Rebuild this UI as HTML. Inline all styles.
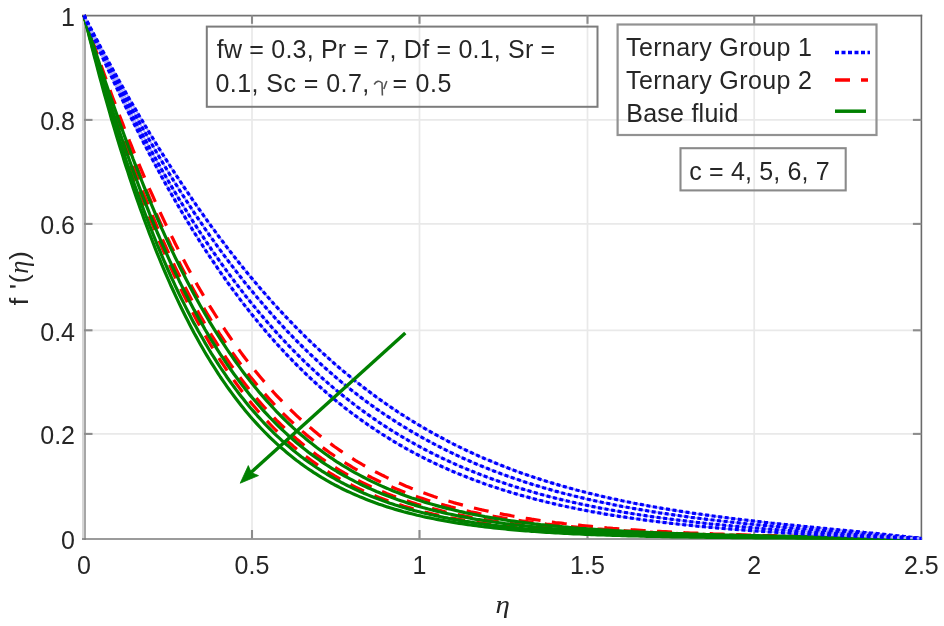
<!DOCTYPE html>
<html><head><meta charset="utf-8"><style>
html,body{margin:0;padding:0;background:#fff;}
svg{display:block;filter:blur(0.45px);}
text{font-family:"Liberation Sans",sans-serif;font-size:25px;fill:#262626;}
</style></head><body>
<svg width="944" height="626" viewBox="0 0 944 626">
<rect x="0" y="0" width="944" height="626" fill="#fff"/>
<g stroke="#e9e9e9" stroke-width="1.7" fill="none">
<line x1="84" y1="119.9" x2="921.4" y2="119.9"/>
<line x1="84" y1="223.9" x2="921.4" y2="223.9"/>
<line x1="84" y1="330.3" x2="921.4" y2="330.3"/>
<line x1="84" y1="433.9" x2="921.4" y2="433.9"/>
<line x1="252.0" y1="15.3" x2="252.0" y2="538.5"/>
<line x1="419.5" y1="15.3" x2="419.5" y2="538.5"/>
<line x1="587.5" y1="15.3" x2="587.5" y2="538.5"/>
<line x1="754.2" y1="15.3" x2="754.2" y2="538.5"/>
</g>
<rect x="82" y="14.5" width="2" height="525.5" fill="#d6d6d6"/>
<rect x="84" y="14.5" width="2" height="525.5" fill="#a6a6a6"/>
<g fill="none">
<line x1="82" y1="15.6" x2="922.2" y2="15.6" stroke="#737373" stroke-width="1.7"/>
<line x1="921.4" y1="14.8" x2="921.4" y2="539.8" stroke="#6a6a6a" stroke-width="1.6"/>
<line x1="82" y1="539" x2="922.2" y2="539" stroke="#7a7a7a" stroke-width="1.7"/>
</g>
<g stroke="#8c8c8c" stroke-width="2.1" fill="none">
<line x1="84" y1="119.9" x2="92.5" y2="119.9"/><line x1="912.9" y1="119.9" x2="921.4" y2="119.9"/>
<line x1="84" y1="223.9" x2="92.5" y2="223.9"/><line x1="912.9" y1="223.9" x2="921.4" y2="223.9"/>
<line x1="84" y1="330.3" x2="92.5" y2="330.3"/><line x1="912.9" y1="330.3" x2="921.4" y2="330.3"/>
<line x1="84" y1="433.9" x2="92.5" y2="433.9"/><line x1="912.9" y1="433.9" x2="921.4" y2="433.9"/>
<line x1="252.0" y1="538.5" x2="252.0" y2="530"/><line x1="252.0" y1="15.3" x2="252.0" y2="23.8"/>
<line x1="419.5" y1="538.5" x2="419.5" y2="530"/><line x1="419.5" y1="15.3" x2="419.5" y2="23.8"/>
<line x1="587.5" y1="538.5" x2="587.5" y2="530"/><line x1="587.5" y1="15.3" x2="587.5" y2="23.8"/>
<line x1="754.2" y1="538.5" x2="754.2" y2="530"/><line x1="754.2" y1="15.3" x2="754.2" y2="23.8"/>
</g>
<g fill="none" stroke-width="3.2" stroke-linejoin="round" stroke-linecap="butt">
<path d="M84.0,15.3 L84.5,16.7 L85.1,18.8 L85.9,21.1 L86.8,23.8 L87.8,26.6 L88.8,29.6 L89.8,32.8 L91.0,36.0 L92.1,39.4 L93.3,42.9 L94.5,46.5 L95.8,50.1 L97.1,53.8 L98.4,57.6 L99.7,61.5 L101.1,65.4 L102.5,69.3 L103.9,73.3 L105.4,77.4 L106.9,81.5 L108.4,85.6 L109.9,89.8 L111.4,94.0 L113.0,98.2 L114.6,102.4 L116.2,106.7 L117.8,111.0 L119.4,115.3 L121.1,119.6 L122.8,123.9 L124.4,128.2 L126.1,132.6 L127.9,136.9 L129.6,141.3 L131.4,145.6 L133.1,150.0 L134.9,154.4 L136.7,158.7 L138.5,163.1 L140.3,167.4 L142.2,171.8 L144.0,176.1 L145.9,180.5 L147.8,184.8 L149.6,189.1 L151.6,193.4 L153.5,197.7 L155.4,202.0 L157.3,206.2 L159.3,210.5 L161.2,214.7 L163.2,218.9 L165.2,223.1 L167.2,227.3 L169.2,231.4 L171.2,235.5 L173.3,239.6 L175.3,243.7 L177.4,247.8 L179.4,251.8 L181.5,255.8 L183.6,259.8 L185.7,263.8 L187.8,267.7 L189.9,271.6 L192.0,275.5 L194.1,279.3 L196.3,283.1 L198.4,286.9 L200.6,290.6 L202.8,294.4 L204.9,298.1 L207.1,301.7 L209.3,305.3 L211.5,308.9 L213.8,312.5 L216.0,316.0 L218.2,319.5 L220.4,323.0 L222.7,326.4 L225.0,329.8 L227.2,333.2 L229.5,336.5 L231.8,339.8 L234.1,343.0 L236.4,346.2 L238.7,349.4 L241.0,352.6 L243.3,355.7 L245.6,358.8 L248.0,361.8 L250.3,364.8 L252.7,367.8 L255.1,370.7 L257.4,373.6 L259.8,376.5 L262.2,379.3 L264.6,382.1 L267.0,384.9 L269.4,387.6 L271.8,390.3 L274.2,393.0 L276.6,395.6 L279.1,398.2 L281.5,400.7 L284.0,403.2 L286.4,405.7 L288.9,408.1 L291.4,410.6 L293.8,412.9 L296.3,415.3 L298.8,417.6 L301.3,419.9 L303.8,422.1 L306.3,424.3 L308.8,426.5 L311.4,428.6 L313.9,430.7 L316.4,432.8 L319.0,434.9 L321.5,436.9 L324.1,438.8 L326.6,440.8 L329.2,442.7 L331.8,444.6 L334.3,446.5 L336.9,448.3 L339.5,450.1 L342.1,451.9 L344.7,453.6 L347.3,455.3 L350.0,457.0 L352.6,458.6 L355.2,460.3 L357.8,461.9 L360.5,463.4 L363.1,465.0 L365.8,466.5 L368.4,468.0 L371.1,469.4 L373.8,470.9 L376.4,472.3 L379.1,473.6 L381.8,475.0 L384.5,476.3 L387.2,477.7 L389.9,478.9 L392.6,480.2 L395.3,481.4 L398.0,482.6 L400.8,483.8 L403.5,485.0 L406.2,486.2 L409.0,487.3 L411.7,488.4 L414.5,489.5 L417.2,490.5 L420.0,491.6 L422.7,492.6 L425.5,493.6 L428.3,494.6 L431.1,495.5 L433.9,496.5 L436.7,497.4 L439.5,498.3 L442.3,499.2 L445.1,500.1 L447.9,500.9 L450.7,501.7 L453.5,502.6 L456.4,503.4 L459.2,504.1 L462.0,504.9 L464.9,505.7 L467.7,506.4 L470.6,507.1 L473.4,507.8 L476.3,508.5 L479.2,509.2 L482.0,509.9 L484.9,510.5 L487.8,511.1 L490.7,511.8 L493.6,512.4 L496.5,513.0 L499.4,513.5 L502.3,514.1 L505.2,514.7 L508.1,515.2 L511.0,515.7 L513.9,516.3 L516.9,516.8 L519.8,517.3 L522.7,517.8 L525.7,518.2 L528.6,518.7 L531.6,519.2 L534.5,519.6 L537.5,520.0 L540.5,520.5 L543.4,520.9 L546.4,521.3 L549.4,521.7 L552.4,522.1 L555.3,522.5 L558.3,522.8 L561.3,523.2 L564.3,523.6 L567.3,523.9 L570.3,524.3 L573.4,524.6 L576.4,524.9 L579.4,525.2 L582.4,525.5 L585.4,525.8 L588.5,526.1 L591.5,526.4 L594.6,526.7 L597.6,527.0 L600.7,527.3 L603.7,527.5 L606.8,527.8 L609.8,528.0 L612.9,528.3 L616.0,528.5 L619.1,528.8 L622.1,529.0 L625.2,529.2 L628.3,529.4 L631.4,529.7 L634.5,529.9 L637.6,530.1 L640.7,530.3 L643.8,530.5 L646.9,530.7 L650.0,530.9 L653.2,531.0 L656.3,531.2 L659.4,531.4 L662.5,531.6 L665.7,531.7 L668.8,531.9 L672.0,532.1 L675.1,532.2 L678.3,532.4 L681.4,532.5 L684.6,532.7 L687.7,532.8 L690.9,533.0 L694.1,533.1 L697.2,533.2 L700.4,533.4 L703.6,533.5 L706.8,533.6 L710.0,533.7 L713.2,533.9 L716.4,534.0 L719.6,534.1 L722.8,534.2 L726.0,534.3 L729.2,534.4 L732.4,534.5 L735.6,534.6 L738.9,534.7 L742.1,534.8 L745.3,534.9 L748.5,535.0 L751.8,535.1 L755.0,535.2 L758.3,535.3 L761.5,535.4 L764.8,535.5 L768.0,535.6 L771.3,535.7 L774.5,535.7 L777.8,535.8 L781.1,535.9 L784.4,536.0 L787.6,536.1 L790.9,536.1 L794.2,536.2 L797.5,536.3 L800.8,536.4 L804.1,536.4 L807.4,536.5 L810.7,536.6 L814.0,536.6 L817.3,536.7 L820.6,536.8 L823.9,536.8 L827.2,536.9 L830.5,537.0 L833.9,537.0 L837.2,537.1 L840.5,537.1 L843.9,537.2 L847.2,537.3 L850.5,537.3 L853.9,537.4 L857.2,537.4 L860.6,537.5 L863.9,537.6 L867.3,537.6 L870.7,537.7 L874.0,537.7 L877.4,537.8 L880.8,537.8 L884.2,537.9 L887.5,538.0 L890.9,538.0 L894.3,538.1 L897.7,538.1 L901.1,538.2 L904.5,538.2 L907.9,538.3 L911.3,538.3 L914.7,538.4 L918.1,538.4 L921.5,538.5" stroke="#ff0000" stroke-dasharray="15 11.4"/>
<path d="M84.0,15.3 L84.5,16.8 L85.1,19.0 L85.9,21.5 L86.8,24.3 L87.8,27.3 L88.8,30.5 L89.8,33.9 L91.0,37.3 L92.1,40.9 L93.3,44.6 L94.5,48.4 L95.8,52.2 L97.1,56.2 L98.4,60.2 L99.7,64.3 L101.1,68.4 L102.5,72.6 L103.9,76.8 L105.4,81.1 L106.9,85.4 L108.4,89.8 L109.9,94.1 L111.4,98.6 L113.0,103.0 L114.6,107.5 L116.2,112.0 L117.8,116.5 L119.4,121.0 L121.1,125.5 L122.8,130.0 L124.4,134.6 L126.1,139.1 L127.9,143.7 L129.6,148.3 L131.4,152.8 L133.1,157.4 L134.9,162.0 L136.7,166.5 L138.5,171.1 L140.3,175.6 L142.2,180.1 L144.0,184.6 L145.9,189.1 L147.8,193.6 L149.6,198.1 L151.6,202.6 L153.5,207.0 L155.4,211.5 L157.3,215.9 L159.3,220.3 L161.2,224.6 L163.2,229.0 L165.2,233.3 L167.2,237.6 L169.2,241.8 L171.2,246.1 L173.3,250.3 L175.3,254.5 L177.4,258.7 L179.4,262.8 L181.5,266.9 L183.6,271.0 L185.7,275.0 L187.8,279.0 L189.9,283.0 L192.0,286.9 L194.1,290.8 L196.3,294.7 L198.4,298.5 L200.6,302.4 L202.8,306.1 L204.9,309.9 L207.1,313.6 L209.3,317.2 L211.5,320.8 L213.8,324.4 L216.0,328.0 L218.2,331.5 L220.4,335.0 L222.7,338.4 L225.0,341.8 L227.2,345.2 L229.5,348.5 L231.8,351.8 L234.1,355.0 L236.4,358.2 L238.7,361.4 L241.0,364.5 L243.3,367.6 L245.6,370.7 L248.0,373.7 L250.3,376.7 L252.7,379.6 L255.1,382.5 L257.4,385.4 L259.8,388.2 L262.2,391.0 L264.6,393.7 L267.0,396.4 L269.4,399.1 L271.8,401.7 L274.2,404.3 L276.6,406.9 L279.1,409.4 L281.5,411.9 L284.0,414.3 L286.4,416.7 L288.9,419.1 L291.4,421.4 L293.8,423.7 L296.3,426.0 L298.8,428.2 L301.3,430.4 L303.8,432.6 L306.3,434.7 L308.8,436.8 L311.4,438.8 L313.9,440.8 L316.4,442.8 L319.0,444.8 L321.5,446.7 L324.1,448.6 L326.6,450.4 L329.2,452.3 L331.8,454.0 L334.3,455.8 L336.9,457.5 L339.5,459.2 L342.1,460.9 L344.7,462.5 L347.3,464.1 L350.0,465.7 L352.6,467.3 L355.2,468.8 L357.8,470.3 L360.5,471.8 L363.1,473.2 L365.8,474.6 L368.4,476.0 L371.1,477.3 L373.8,478.7 L376.4,480.0 L379.1,481.3 L381.8,482.5 L384.5,483.8 L387.2,485.0 L389.9,486.1 L392.6,487.3 L395.3,488.4 L398.0,489.6 L400.8,490.7 L403.5,491.7 L406.2,492.8 L409.0,493.8 L411.7,494.8 L414.5,495.8 L417.2,496.8 L420.0,497.7 L422.7,498.6 L425.5,499.5 L428.3,500.4 L431.1,501.3 L433.9,502.1 L436.7,503.0 L439.5,503.8 L442.3,504.6 L445.1,505.4 L447.9,506.1 L450.7,506.9 L453.5,507.6 L456.4,508.3 L459.2,509.0 L462.0,509.7 L464.9,510.4 L467.7,511.0 L470.6,511.7 L473.4,512.3 L476.3,512.9 L479.2,513.5 L482.0,514.1 L484.9,514.7 L487.8,515.2 L490.7,515.8 L493.6,516.3 L496.5,516.8 L499.4,517.3 L502.3,517.8 L505.2,518.3 L508.1,518.8 L511.0,519.3 L513.9,519.7 L516.9,520.2 L519.8,520.6 L522.7,521.0 L525.7,521.4 L528.6,521.8 L531.6,522.2 L534.5,522.6 L537.5,523.0 L540.5,523.4 L543.4,523.7 L546.4,524.1 L549.4,524.4 L552.4,524.8 L555.3,525.1 L558.3,525.4 L561.3,525.7 L564.3,526.0 L567.3,526.3 L570.3,526.6 L573.4,526.9 L576.4,527.2 L579.4,527.5 L582.4,527.7 L585.4,528.0 L588.5,528.2 L591.5,528.5 L594.6,528.7 L597.6,529.0 L600.7,529.2 L603.7,529.4 L606.8,529.6 L609.8,529.8 L612.9,530.0 L616.0,530.3 L619.1,530.5 L622.1,530.6 L625.2,530.8 L628.3,531.0 L631.4,531.2 L634.5,531.4 L637.6,531.6 L640.7,531.7 L643.8,531.9 L646.9,532.0 L650.0,532.2 L653.2,532.4 L656.3,532.5 L659.4,532.7 L662.5,532.8 L665.7,532.9 L668.8,533.1 L672.0,533.2 L675.1,533.3 L678.3,533.5 L681.4,533.6 L684.6,533.7 L687.7,533.8 L690.9,533.9 L694.1,534.1 L697.2,534.2 L700.4,534.3 L703.6,534.4 L706.8,534.5 L710.0,534.6 L713.2,534.7 L716.4,534.8 L719.6,534.9 L722.8,535.0 L726.0,535.1 L729.2,535.2 L732.4,535.2 L735.6,535.3 L738.9,535.4 L742.1,535.5 L745.3,535.6 L748.5,535.7 L751.8,535.7 L755.0,535.8 L758.3,535.9 L761.5,536.0 L764.8,536.0 L768.0,536.1 L771.3,536.2 L774.5,536.2 L777.8,536.3 L781.1,536.4 L784.4,536.4 L787.6,536.5 L790.9,536.6 L794.2,536.6 L797.5,536.7 L800.8,536.7 L804.1,536.8 L807.4,536.9 L810.7,536.9 L814.0,537.0 L817.3,537.0 L820.6,537.1 L823.9,537.1 L827.2,537.2 L830.5,537.2 L833.9,537.3 L837.2,537.3 L840.5,537.4 L843.9,537.4 L847.2,537.5 L850.5,537.5 L853.9,537.6 L857.2,537.6 L860.6,537.7 L863.9,537.7 L867.3,537.8 L870.7,537.8 L874.0,537.9 L877.4,537.9 L880.8,538.0 L884.2,538.0 L887.5,538.0 L890.9,538.1 L894.3,538.1 L897.7,538.2 L901.1,538.2 L904.5,538.3 L907.9,538.3 L911.3,538.4 L914.7,538.4 L918.1,538.5 L921.5,538.5" stroke="#ff0000" stroke-dasharray="15 11.4"/>
<path d="M84.0,15.3 L84.5,16.9 L85.1,19.2 L85.9,22.0 L86.8,24.9 L87.8,28.2 L88.8,31.6 L89.8,35.1 L91.0,38.8 L92.1,42.7 L93.3,46.6 L94.5,50.6 L95.8,54.8 L97.1,59.0 L98.4,63.2 L99.7,67.6 L101.1,72.0 L102.5,76.4 L103.9,80.9 L105.4,85.5 L106.9,90.1 L108.4,94.7 L109.9,99.4 L111.4,104.0 L113.0,108.7 L114.6,113.5 L116.2,118.2 L117.8,123.0 L119.4,127.8 L121.1,132.6 L122.8,137.3 L124.4,142.1 L126.1,147.0 L127.9,151.8 L129.6,156.6 L131.4,161.4 L133.1,166.2 L134.9,171.0 L136.7,175.7 L138.5,180.5 L140.3,185.3 L142.2,190.0 L144.0,194.7 L145.9,199.4 L147.8,204.1 L149.6,208.8 L151.6,213.5 L153.5,218.1 L155.4,222.7 L157.3,227.3 L159.3,231.9 L161.2,236.4 L163.2,240.9 L165.2,245.4 L167.2,249.8 L169.2,254.2 L171.2,258.6 L173.3,263.0 L175.3,267.3 L177.4,271.6 L179.4,275.8 L181.5,280.0 L183.6,284.2 L185.7,288.3 L187.8,292.4 L189.9,296.5 L192.0,300.5 L194.1,304.5 L196.3,308.5 L198.4,312.4 L200.6,316.3 L202.8,320.1 L204.9,323.9 L207.1,327.6 L209.3,331.3 L211.5,335.0 L213.8,338.6 L216.0,342.2 L218.2,345.7 L220.4,349.2 L222.7,352.7 L225.0,356.1 L227.2,359.5 L229.5,362.8 L231.8,366.1 L234.1,369.3 L236.4,372.5 L238.7,375.6 L241.0,378.7 L243.3,381.8 L245.6,384.8 L248.0,387.8 L250.3,390.8 L252.7,393.6 L255.1,396.5 L257.4,399.3 L259.8,402.1 L262.2,404.8 L264.6,407.5 L267.0,410.1 L269.4,412.7 L271.8,415.3 L274.2,417.8 L276.6,420.3 L279.1,422.7 L281.5,425.1 L284.0,427.5 L286.4,429.8 L288.9,432.1 L291.4,434.3 L293.8,436.5 L296.3,438.7 L298.8,440.8 L301.3,442.9 L303.8,445.0 L306.3,447.0 L308.8,449.0 L311.4,450.9 L313.9,452.8 L316.4,454.7 L319.0,456.6 L321.5,458.4 L324.1,460.1 L326.6,461.9 L329.2,463.6 L331.8,465.3 L334.3,466.9 L336.9,468.5 L339.5,470.1 L342.1,471.6 L344.7,473.2 L347.3,474.7 L350.0,476.1 L352.6,477.5 L355.2,478.9 L357.8,480.3 L360.5,481.7 L363.1,483.0 L365.8,484.3 L368.4,485.5 L371.1,486.8 L373.8,488.0 L376.4,489.2 L379.1,490.3 L381.8,491.5 L384.5,492.6 L387.2,493.7 L389.9,494.7 L392.6,495.8 L395.3,496.8 L398.0,497.8 L400.8,498.7 L403.5,499.7 L406.2,500.6 L409.0,501.5 L411.7,502.4 L414.5,503.3 L417.2,504.2 L420.0,505.0 L422.7,505.8 L425.5,506.6 L428.3,507.4 L431.1,508.1 L433.9,508.9 L436.7,509.6 L439.5,510.3 L442.3,511.0 L445.1,511.7 L447.9,512.3 L450.7,513.0 L453.5,513.6 L456.4,514.2 L459.2,514.8 L462.0,515.4 L464.9,516.0 L467.7,516.5 L470.6,517.1 L473.4,517.6 L476.3,518.1 L479.2,518.6 L482.0,519.1 L484.9,519.6 L487.8,520.1 L490.7,520.5 L493.6,521.0 L496.5,521.4 L499.4,521.8 L502.3,522.3 L505.2,522.7 L508.1,523.1 L511.0,523.4 L513.9,523.8 L516.9,524.2 L519.8,524.5 L522.7,524.9 L525.7,525.2 L528.6,525.6 L531.6,525.9 L534.5,526.2 L537.5,526.5 L540.5,526.8 L543.4,527.1 L546.4,527.4 L549.4,527.7 L552.4,527.9 L555.3,528.2 L558.3,528.5 L561.3,528.7 L564.3,529.0 L567.3,529.2 L570.3,529.4 L573.4,529.7 L576.4,529.9 L579.4,530.1 L582.4,530.3 L585.4,530.5 L588.5,530.7 L591.5,530.9 L594.6,531.1 L597.6,531.3 L600.7,531.5 L603.7,531.6 L606.8,531.8 L609.8,532.0 L612.9,532.1 L616.0,532.3 L619.1,532.5 L622.1,532.6 L625.2,532.8 L628.3,532.9 L631.4,533.0 L634.5,533.2 L637.6,533.3 L640.7,533.4 L643.8,533.6 L646.9,533.7 L650.0,533.8 L653.2,533.9 L656.3,534.0 L659.4,534.2 L662.5,534.3 L665.7,534.4 L668.8,534.5 L672.0,534.6 L675.1,534.7 L678.3,534.8 L681.4,534.9 L684.6,535.0 L687.7,535.0 L690.9,535.1 L694.1,535.2 L697.2,535.3 L700.4,535.4 L703.6,535.5 L706.8,535.5 L710.0,535.6 L713.2,535.7 L716.4,535.8 L719.6,535.8 L722.8,535.9 L726.0,536.0 L729.2,536.0 L732.4,536.1 L735.6,536.2 L738.9,536.2 L742.1,536.3 L745.3,536.3 L748.5,536.4 L751.8,536.5 L755.0,536.5 L758.3,536.6 L761.5,536.6 L764.8,536.7 L768.0,536.7 L771.3,536.8 L774.5,536.8 L777.8,536.9 L781.1,536.9 L784.4,537.0 L787.6,537.0 L790.9,537.1 L794.2,537.1 L797.5,537.1 L800.8,537.2 L804.1,537.2 L807.4,537.3 L810.7,537.3 L814.0,537.4 L817.3,537.4 L820.6,537.4 L823.9,537.5 L827.2,537.5 L830.5,537.6 L833.9,537.6 L837.2,537.6 L840.5,537.7 L843.9,537.7 L847.2,537.7 L850.5,537.8 L853.9,537.8 L857.2,537.8 L860.6,537.9 L863.9,537.9 L867.3,537.9 L870.7,538.0 L874.0,538.0 L877.4,538.0 L880.8,538.1 L884.2,538.1 L887.5,538.2 L890.9,538.2 L894.3,538.2 L897.7,538.3 L901.1,538.3 L904.5,538.3 L907.9,538.4 L911.3,538.4 L914.7,538.4 L918.1,538.5 L921.5,538.5" stroke="#ff0000" stroke-dasharray="15 11.4"/>
<path d="M84.0,15.3 L84.5,17.0 L85.1,19.4 L85.9,22.3 L86.8,25.4 L87.8,28.8 L88.8,32.4 L89.8,36.2 L91.0,40.0 L92.1,44.1 L93.3,48.2 L94.5,52.4 L95.8,56.8 L97.1,61.2 L98.4,65.7 L99.7,70.2 L101.1,74.8 L102.5,79.5 L103.9,84.2 L105.4,89.0 L106.9,93.8 L108.4,98.6 L109.9,103.5 L111.4,108.4 L113.0,113.3 L114.6,118.2 L116.2,123.2 L117.8,128.1 L119.4,133.1 L121.1,138.1 L122.8,143.1 L124.4,148.1 L126.1,153.1 L127.9,158.1 L129.6,163.1 L131.4,168.1 L133.1,173.1 L134.9,178.1 L136.7,183.0 L138.5,188.0 L140.3,192.9 L142.2,197.8 L144.0,202.7 L145.9,207.6 L147.8,212.4 L149.6,217.3 L151.6,222.1 L153.5,226.8 L155.4,231.6 L157.3,236.3 L159.3,241.0 L161.2,245.7 L163.2,250.3 L165.2,254.9 L167.2,259.5 L169.2,264.0 L171.2,268.5 L173.3,273.0 L175.3,277.4 L177.4,281.8 L179.4,286.1 L181.5,290.4 L183.6,294.7 L185.7,298.9 L187.8,303.1 L189.9,307.2 L192.0,311.3 L194.1,315.3 L196.3,319.4 L198.4,323.3 L200.6,327.2 L202.8,331.1 L204.9,334.9 L207.1,338.7 L209.3,342.5 L211.5,346.2 L213.8,349.8 L216.0,353.4 L218.2,357.0 L220.4,360.5 L222.7,363.9 L225.0,367.3 L227.2,370.7 L229.5,374.0 L231.8,377.3 L234.1,380.5 L236.4,383.7 L238.7,386.9 L241.0,390.0 L243.3,393.0 L245.6,396.0 L248.0,399.0 L250.3,401.9 L252.7,404.7 L255.1,407.5 L257.4,410.3 L259.8,413.0 L262.2,415.7 L264.6,418.4 L267.0,420.9 L269.4,423.5 L271.8,426.0 L274.2,428.5 L276.6,430.9 L279.1,433.3 L281.5,435.6 L284.0,437.9 L286.4,440.1 L288.9,442.4 L291.4,444.5 L293.8,446.7 L296.3,448.8 L298.8,450.8 L301.3,452.8 L303.8,454.8 L306.3,456.7 L308.8,458.6 L311.4,460.5 L313.9,462.3 L316.4,464.1 L319.0,465.9 L321.5,467.6 L324.1,469.3 L326.6,470.9 L329.2,472.5 L331.8,474.1 L334.3,475.7 L336.9,477.2 L339.5,478.7 L342.1,480.1 L344.7,481.6 L347.3,482.9 L350.0,484.3 L352.6,485.6 L355.2,487.0 L357.8,488.2 L360.5,489.5 L363.1,490.7 L365.8,491.9 L368.4,493.1 L371.1,494.2 L373.8,495.3 L376.4,496.4 L379.1,497.5 L381.8,498.5 L384.5,499.5 L387.2,500.5 L389.9,501.5 L392.6,502.4 L395.3,503.3 L398.0,504.3 L400.8,505.1 L403.5,506.0 L406.2,506.8 L409.0,507.6 L411.7,508.4 L414.5,509.2 L417.2,510.0 L420.0,510.7 L422.7,511.5 L425.5,512.2 L428.3,512.9 L431.1,513.5 L433.9,514.2 L436.7,514.8 L439.5,515.4 L442.3,516.0 L445.1,516.6 L447.9,517.2 L450.7,517.8 L453.5,518.3 L456.4,518.9 L459.2,519.4 L462.0,519.9 L464.9,520.4 L467.7,520.9 L470.6,521.3 L473.4,521.8 L476.3,522.2 L479.2,522.7 L482.0,523.1 L484.9,523.5 L487.8,523.9 L490.7,524.3 L493.6,524.7 L496.5,525.0 L499.4,525.4 L502.3,525.8 L505.2,526.1 L508.1,526.4 L511.0,526.7 L513.9,527.1 L516.9,527.4 L519.8,527.7 L522.7,528.0 L525.7,528.2 L528.6,528.5 L531.6,528.8 L534.5,529.0 L537.5,529.3 L540.5,529.5 L543.4,529.8 L546.4,530.0 L549.4,530.2 L552.4,530.5 L555.3,530.7 L558.3,530.9 L561.3,531.1 L564.3,531.3 L567.3,531.5 L570.3,531.7 L573.4,531.8 L576.4,532.0 L579.4,532.2 L582.4,532.4 L585.4,532.5 L588.5,532.7 L591.5,532.8 L594.6,533.0 L597.6,533.1 L600.7,533.3 L603.7,533.4 L606.8,533.5 L609.8,533.7 L612.9,533.8 L616.0,533.9 L619.1,534.0 L622.1,534.2 L625.2,534.3 L628.3,534.4 L631.4,534.5 L634.5,534.6 L637.6,534.7 L640.7,534.8 L643.8,534.9 L646.9,535.0 L650.0,535.1 L653.2,535.2 L656.3,535.2 L659.4,535.3 L662.5,535.4 L665.7,535.5 L668.8,535.6 L672.0,535.6 L675.1,535.7 L678.3,535.8 L681.4,535.9 L684.6,535.9 L687.7,536.0 L690.9,536.1 L694.1,536.1 L697.2,536.2 L700.4,536.2 L703.6,536.3 L706.8,536.4 L710.0,536.4 L713.2,536.5 L716.4,536.5 L719.6,536.6 L722.8,536.6 L726.0,536.7 L729.2,536.7 L732.4,536.8 L735.6,536.8 L738.9,536.9 L742.1,536.9 L745.3,536.9 L748.5,537.0 L751.8,537.0 L755.0,537.1 L758.3,537.1 L761.5,537.1 L764.8,537.2 L768.0,537.2 L771.3,537.3 L774.5,537.3 L777.8,537.3 L781.1,537.4 L784.4,537.4 L787.6,537.4 L790.9,537.5 L794.2,537.5 L797.5,537.5 L800.8,537.5 L804.1,537.6 L807.4,537.6 L810.7,537.6 L814.0,537.7 L817.3,537.7 L820.6,537.7 L823.9,537.7 L827.2,537.8 L830.5,537.8 L833.9,537.8 L837.2,537.9 L840.5,537.9 L843.9,537.9 L847.2,537.9 L850.5,538.0 L853.9,538.0 L857.2,538.0 L860.6,538.0 L863.9,538.1 L867.3,538.1 L870.7,538.1 L874.0,538.1 L877.4,538.2 L880.8,538.2 L884.2,538.2 L887.5,538.2 L890.9,538.3 L894.3,538.3 L897.7,538.3 L901.1,538.3 L904.5,538.4 L907.9,538.4 L911.3,538.4 L914.7,538.4 L918.1,538.5 L921.5,538.5" stroke="#ff0000" stroke-dasharray="15 11.4"/>
<path d="M84.0,15.3 L84.5,16.8 L85.1,19.0 L85.9,21.6 L86.8,24.4 L87.8,27.4 L88.8,30.6 L89.8,34.0 L91.0,37.5 L92.1,41.1 L93.3,44.8 L94.5,48.6 L95.8,52.5 L97.1,56.5 L98.4,60.5 L99.7,64.6 L101.1,68.8 L102.5,73.1 L103.9,77.3 L105.4,81.7 L106.9,86.0 L108.4,90.4 L109.9,94.9 L111.4,99.3 L113.0,103.8 L114.6,108.3 L116.2,112.9 L117.8,117.4 L119.4,122.0 L121.1,126.6 L122.8,131.2 L124.4,135.8 L126.1,140.4 L127.9,145.1 L129.6,149.7 L131.4,154.3 L133.1,159.0 L134.9,163.6 L136.7,168.2 L138.5,172.8 L140.3,177.4 L142.2,182.0 L144.0,186.6 L145.9,191.2 L147.8,195.8 L149.6,200.3 L151.6,204.9 L153.5,209.4 L155.4,213.9 L157.3,218.4 L159.3,222.8 L161.2,227.3 L163.2,231.7 L165.2,236.1 L167.2,240.4 L169.2,244.8 L171.2,249.1 L173.3,253.4 L175.3,257.6 L177.4,261.8 L179.4,266.0 L181.5,270.2 L183.6,274.3 L185.7,278.4 L187.8,282.5 L189.9,286.5 L192.0,290.5 L194.1,294.5 L196.3,298.4 L198.4,302.3 L200.6,306.2 L202.8,310.0 L204.9,313.8 L207.1,317.5 L209.3,321.3 L211.5,324.9 L213.8,328.6 L216.0,332.2 L218.2,335.7 L220.4,339.2 L222.7,342.7 L225.0,346.1 L227.2,349.5 L229.5,352.9 L231.8,356.2 L234.1,359.5 L236.4,362.7 L238.7,365.9 L241.0,369.1 L243.3,372.2 L245.6,375.3 L248.0,378.3 L250.3,381.3 L252.7,384.2 L255.1,387.2 L257.4,390.0 L259.8,392.9 L262.2,395.6 L264.6,398.4 L267.0,401.1 L269.4,403.8 L271.8,406.4 L274.2,409.0 L276.6,411.6 L279.1,414.1 L281.5,416.5 L284.0,419.0 L286.4,421.4 L288.9,423.7 L291.4,426.1 L293.8,428.4 L296.3,430.6 L298.8,432.8 L301.3,435.0 L303.8,437.1 L306.3,439.2 L308.8,441.3 L311.4,443.3 L313.9,445.3 L316.4,447.3 L319.0,449.2 L321.5,451.1 L324.1,453.0 L326.6,454.8 L329.2,456.6 L331.8,458.3 L334.3,460.1 L336.9,461.8 L339.5,463.4 L342.1,465.1 L344.7,466.7 L347.3,468.2 L350.0,469.8 L352.6,471.3 L355.2,472.8 L357.8,474.2 L360.5,475.6 L363.1,477.0 L365.8,478.4 L368.4,479.8 L371.1,481.1 L373.8,482.4 L376.4,483.6 L379.1,484.9 L381.8,486.1 L384.5,487.3 L387.2,488.4 L389.9,489.6 L392.6,490.7 L395.3,491.8 L398.0,492.8 L400.8,493.9 L403.5,494.9 L406.2,495.9 L409.0,496.9 L411.7,497.9 L414.5,498.8 L417.2,499.7 L420.0,500.6 L422.7,501.5 L425.5,502.4 L428.3,503.2 L431.1,504.0 L433.9,504.8 L436.7,505.6 L439.5,506.4 L442.3,507.1 L445.1,507.9 L447.9,508.6 L450.7,509.3 L453.5,510.0 L456.4,510.6 L459.2,511.3 L462.0,511.9 L464.9,512.6 L467.7,513.2 L470.6,513.8 L473.4,514.4 L476.3,514.9 L479.2,515.5 L482.0,516.0 L484.9,516.6 L487.8,517.1 L490.7,517.6 L493.6,518.1 L496.5,518.6 L499.4,519.0 L502.3,519.5 L505.2,519.9 L508.1,520.4 L511.0,520.8 L513.9,521.2 L516.9,521.6 L519.8,522.0 L522.7,522.4 L525.7,522.8 L528.6,523.2 L531.6,523.5 L534.5,523.9 L537.5,524.2 L540.5,524.6 L543.4,524.9 L546.4,525.2 L549.4,525.5 L552.4,525.8 L555.3,526.1 L558.3,526.4 L561.3,526.7 L564.3,527.0 L567.3,527.2 L570.3,527.5 L573.4,527.8 L576.4,528.0 L579.4,528.3 L582.4,528.5 L585.4,528.7 L588.5,529.0 L591.5,529.2 L594.6,529.4 L597.6,529.6 L600.7,529.8 L603.7,530.0 L606.8,530.2 L609.8,530.4 L612.9,530.6 L616.0,530.8 L619.1,530.9 L622.1,531.1 L625.2,531.3 L628.3,531.4 L631.4,531.6 L634.5,531.8 L637.6,531.9 L640.7,532.1 L643.8,532.2 L646.9,532.3 L650.0,532.5 L653.2,532.6 L656.3,532.8 L659.4,532.9 L662.5,533.0 L665.7,533.1 L668.8,533.3 L672.0,533.4 L675.1,533.5 L678.3,533.6 L681.4,533.7 L684.6,533.8 L687.7,533.9 L690.9,534.0 L694.1,534.1 L697.2,534.2 L700.4,534.3 L703.6,534.4 L706.8,534.5 L710.0,534.6 L713.2,534.7 L716.4,534.8 L719.6,534.9 L722.8,534.9 L726.0,535.0 L729.2,535.1 L732.4,535.2 L735.6,535.3 L738.9,535.3 L742.1,535.4 L745.3,535.5 L748.5,535.5 L751.8,535.6 L755.0,535.7 L758.3,535.7 L761.5,535.8 L764.8,535.9 L768.0,535.9 L771.3,536.0 L774.5,536.1 L777.8,536.1 L781.1,536.2 L784.4,536.2 L787.6,536.3 L790.9,536.4 L794.2,536.4 L797.5,536.5 L800.8,536.5 L804.1,536.6 L807.4,536.6 L810.7,536.7 L814.0,536.8 L817.3,536.8 L820.6,536.9 L823.9,536.9 L827.2,537.0 L830.5,537.0 L833.9,537.1 L837.2,537.1 L840.5,537.2 L843.9,537.2 L847.2,537.3 L850.5,537.3 L853.9,537.4 L857.2,537.4 L860.6,537.5 L863.9,537.5 L867.3,537.6 L870.7,537.6 L874.0,537.7 L877.4,537.7 L880.8,537.8 L884.2,537.8 L887.5,537.9 L890.9,538.0 L894.3,538.0 L897.7,538.1 L901.1,538.1 L904.5,538.2 L907.9,538.2 L911.3,538.3 L914.7,538.4 L918.1,538.4 L921.5,538.5" stroke="#008000" />
<path d="M84.0,15.3 L84.5,17.0 L85.1,19.4 L85.9,22.2 L86.8,25.3 L87.8,28.7 L88.8,32.2 L89.8,35.9 L91.0,39.8 L92.1,43.7 L93.3,47.8 L94.5,52.0 L95.8,56.3 L97.1,60.6 L98.4,65.0 L99.7,69.5 L101.1,74.1 L102.5,78.7 L103.9,83.3 L105.4,88.0 L106.9,92.7 L108.4,97.5 L109.9,102.3 L111.4,107.1 L113.0,111.9 L114.6,116.7 L116.2,121.6 L117.8,126.5 L119.4,131.4 L121.1,136.3 L122.8,141.2 L124.4,146.1 L126.1,151.0 L127.9,155.9 L129.6,160.8 L131.4,165.7 L133.1,170.5 L134.9,175.4 L136.7,180.3 L138.5,185.1 L140.3,189.9 L142.2,194.8 L144.0,199.5 L145.9,204.3 L147.8,209.1 L149.6,213.8 L151.6,218.5 L153.5,223.2 L155.4,227.8 L157.3,232.5 L159.3,237.0 L161.2,241.6 L163.2,246.1 L165.2,250.6 L167.2,255.1 L169.2,259.6 L171.2,264.0 L173.3,268.3 L175.3,272.6 L177.4,276.9 L179.4,281.2 L181.5,285.4 L183.6,289.6 L185.7,293.7 L187.8,297.8 L189.9,301.9 L192.0,305.9 L194.1,309.9 L196.3,313.8 L198.4,317.7 L200.6,321.6 L202.8,325.4 L204.9,329.2 L207.1,332.9 L209.3,336.6 L211.5,340.2 L213.8,343.8 L216.0,347.4 L218.2,350.9 L220.4,354.3 L222.7,357.7 L225.0,361.1 L227.2,364.5 L229.5,367.7 L231.8,371.0 L234.1,374.2 L236.4,377.3 L238.7,380.5 L241.0,383.5 L243.3,386.5 L245.6,389.5 L248.0,392.5 L250.3,395.4 L252.7,398.2 L255.1,401.0 L257.4,403.8 L259.8,406.5 L262.2,409.2 L264.6,411.8 L267.0,414.4 L269.4,417.0 L271.8,419.5 L274.2,422.0 L276.6,424.4 L279.1,426.8 L281.5,429.1 L284.0,431.4 L286.4,433.7 L288.9,436.0 L291.4,438.1 L293.8,440.3 L296.3,442.4 L298.8,444.5 L301.3,446.5 L303.8,448.6 L306.3,450.5 L308.8,452.5 L311.4,454.4 L313.9,456.2 L316.4,458.0 L319.0,459.8 L321.5,461.6 L324.1,463.3 L326.6,465.0 L329.2,466.7 L331.8,468.3 L334.3,469.9 L336.9,471.5 L339.5,473.0 L342.1,474.5 L344.7,476.0 L347.3,477.4 L350.0,478.8 L352.6,480.2 L355.2,481.6 L357.8,482.9 L360.5,484.2 L363.1,485.5 L365.8,486.7 L368.4,488.0 L371.1,489.1 L373.8,490.3 L376.4,491.5 L379.1,492.6 L381.8,493.7 L384.5,494.7 L387.2,495.8 L389.9,496.8 L392.6,497.8 L395.3,498.8 L398.0,499.8 L400.8,500.7 L403.5,501.6 L406.2,502.5 L409.0,503.4 L411.7,504.2 L414.5,505.1 L417.2,505.9 L420.0,506.7 L422.7,507.5 L425.5,508.2 L428.3,509.0 L431.1,509.7 L433.9,510.4 L436.7,511.1 L439.5,511.8 L442.3,512.5 L445.1,513.1 L447.9,513.7 L450.7,514.3 L453.5,514.9 L456.4,515.5 L459.2,516.1 L462.0,516.7 L464.9,517.2 L467.7,517.7 L470.6,518.3 L473.4,518.8 L476.3,519.3 L479.2,519.7 L482.0,520.2 L484.9,520.7 L487.8,521.1 L490.7,521.5 L493.6,522.0 L496.5,522.4 L499.4,522.8 L502.3,523.2 L505.2,523.6 L508.1,523.9 L511.0,524.3 L513.9,524.7 L516.9,525.0 L519.8,525.4 L522.7,525.7 L525.7,526.0 L528.6,526.3 L531.6,526.6 L534.5,526.9 L537.5,527.2 L540.5,527.5 L543.4,527.8 L546.4,528.0 L549.4,528.3 L552.4,528.6 L555.3,528.8 L558.3,529.0 L561.3,529.3 L564.3,529.5 L567.3,529.7 L570.3,529.9 L573.4,530.2 L576.4,530.4 L579.4,530.6 L582.4,530.8 L585.4,531.0 L588.5,531.1 L591.5,531.3 L594.6,531.5 L597.6,531.7 L600.7,531.8 L603.7,532.0 L606.8,532.2 L609.8,532.3 L612.9,532.5 L616.0,532.6 L619.1,532.8 L622.1,532.9 L625.2,533.0 L628.3,533.2 L631.4,533.3 L634.5,533.4 L637.6,533.6 L640.7,533.7 L643.8,533.8 L646.9,533.9 L650.0,534.0 L653.2,534.1 L656.3,534.2 L659.4,534.3 L662.5,534.4 L665.7,534.5 L668.8,534.6 L672.0,534.7 L675.1,534.8 L678.3,534.9 L681.4,535.0 L684.6,535.1 L687.7,535.2 L690.9,535.2 L694.1,535.3 L697.2,535.4 L700.4,535.5 L703.6,535.5 L706.8,535.6 L710.0,535.7 L713.2,535.8 L716.4,535.8 L719.6,535.9 L722.8,536.0 L726.0,536.0 L729.2,536.1 L732.4,536.1 L735.6,536.2 L738.9,536.3 L742.1,536.3 L745.3,536.4 L748.5,536.4 L751.8,536.5 L755.0,536.5 L758.3,536.6 L761.5,536.6 L764.8,536.7 L768.0,536.7 L771.3,536.8 L774.5,536.8 L777.8,536.9 L781.1,536.9 L784.4,536.9 L787.6,537.0 L790.9,537.0 L794.2,537.1 L797.5,537.1 L800.8,537.1 L804.1,537.2 L807.4,537.2 L810.7,537.3 L814.0,537.3 L817.3,537.3 L820.6,537.4 L823.9,537.4 L827.2,537.5 L830.5,537.5 L833.9,537.5 L837.2,537.6 L840.5,537.6 L843.9,537.6 L847.2,537.7 L850.5,537.7 L853.9,537.7 L857.2,537.8 L860.6,537.8 L863.9,537.9 L867.3,537.9 L870.7,537.9 L874.0,538.0 L877.4,538.0 L880.8,538.0 L884.2,538.1 L887.5,538.1 L890.9,538.1 L894.3,538.2 L897.7,538.2 L901.1,538.3 L904.5,538.3 L907.9,538.3 L911.3,538.4 L914.7,538.4 L918.1,538.5 L921.5,538.5" stroke="#008000" />
<path d="M84.0,15.3 L84.5,17.1 L85.1,19.7 L85.9,22.8 L86.8,26.2 L87.8,29.8 L88.8,33.6 L89.8,37.6 L91.0,41.8 L92.1,46.1 L93.3,50.5 L94.5,55.0 L95.8,59.6 L97.1,64.2 L98.4,69.0 L99.7,73.8 L101.1,78.7 L102.5,83.6 L103.9,88.5 L105.4,93.5 L106.9,98.6 L108.4,103.6 L109.9,108.7 L111.4,113.8 L113.0,119.0 L114.6,124.1 L116.2,129.2 L117.8,134.4 L119.4,139.6 L121.1,144.7 L122.8,149.9 L124.4,155.0 L126.1,160.2 L127.9,165.3 L129.6,170.5 L131.4,175.6 L133.1,180.7 L134.9,185.8 L136.7,190.8 L138.5,195.9 L140.3,200.9 L142.2,205.9 L144.0,210.8 L145.9,215.8 L147.8,220.7 L149.6,225.6 L151.6,230.4 L153.5,235.3 L155.4,240.0 L157.3,244.8 L159.3,249.5 L161.2,254.2 L163.2,258.8 L165.2,263.4 L167.2,268.0 L169.2,272.5 L171.2,277.0 L173.3,281.4 L175.3,285.8 L177.4,290.2 L179.4,294.5 L181.5,298.7 L183.6,302.9 L185.7,307.1 L187.8,311.2 L189.9,315.3 L192.0,319.4 L194.1,323.4 L196.3,327.3 L198.4,331.2 L200.6,335.0 L202.8,338.8 L204.9,342.6 L207.1,346.3 L209.3,350.0 L211.5,353.6 L213.8,357.1 L216.0,360.7 L218.2,364.1 L220.4,367.5 L222.7,370.9 L225.0,374.2 L227.2,377.5 L229.5,380.7 L231.8,383.9 L234.1,387.0 L236.4,390.1 L238.7,393.2 L241.0,396.2 L243.3,399.1 L245.6,402.0 L248.0,404.9 L250.3,407.7 L252.7,410.4 L255.1,413.1 L257.4,415.8 L259.8,418.4 L262.2,421.0 L264.6,423.6 L267.0,426.1 L269.4,428.5 L271.8,430.9 L274.2,433.3 L276.6,435.6 L279.1,437.9 L281.5,440.2 L284.0,442.4 L286.4,444.5 L288.9,446.6 L291.4,448.7 L293.8,450.8 L296.3,452.8 L298.8,454.7 L301.3,456.7 L303.8,458.6 L306.3,460.4 L308.8,462.2 L311.4,464.0 L313.9,465.8 L316.4,467.5 L319.0,469.1 L321.5,470.8 L324.1,472.4 L326.6,474.0 L329.2,475.5 L331.8,477.0 L334.3,478.5 L336.9,480.0 L339.5,481.4 L342.1,482.8 L344.7,484.1 L347.3,485.5 L350.0,486.8 L352.6,488.0 L355.2,489.3 L357.8,490.5 L360.5,491.7 L363.1,492.9 L365.8,494.0 L368.4,495.1 L371.1,496.2 L373.8,497.3 L376.4,498.3 L379.1,499.3 L381.8,500.3 L384.5,501.3 L387.2,502.2 L389.9,503.2 L392.6,504.1 L395.3,505.0 L398.0,505.8 L400.8,506.7 L403.5,507.5 L406.2,508.3 L409.0,509.1 L411.7,509.8 L414.5,510.6 L417.2,511.3 L420.0,512.0 L422.7,512.7 L425.5,513.4 L428.3,514.0 L431.1,514.7 L433.9,515.3 L436.7,515.9 L439.5,516.5 L442.3,517.1 L445.1,517.7 L447.9,518.2 L450.7,518.8 L453.5,519.3 L456.4,519.8 L459.2,520.3 L462.0,520.8 L464.9,521.3 L467.7,521.7 L470.6,522.2 L473.4,522.6 L476.3,523.0 L479.2,523.5 L482.0,523.9 L484.9,524.3 L487.8,524.6 L490.7,525.0 L493.6,525.4 L496.5,525.7 L499.4,526.1 L502.3,526.4 L505.2,526.7 L508.1,527.1 L511.0,527.4 L513.9,527.7 L516.9,528.0 L519.8,528.3 L522.7,528.5 L525.7,528.8 L528.6,529.1 L531.6,529.3 L534.5,529.6 L537.5,529.8 L540.5,530.0 L543.4,530.3 L546.4,530.5 L549.4,530.7 L552.4,530.9 L555.3,531.1 L558.3,531.3 L561.3,531.5 L564.3,531.7 L567.3,531.9 L570.3,532.1 L573.4,532.3 L576.4,532.4 L579.4,532.6 L582.4,532.8 L585.4,532.9 L588.5,533.1 L591.5,533.2 L594.6,533.4 L597.6,533.5 L600.7,533.6 L603.7,533.8 L606.8,533.9 L609.8,534.0 L612.9,534.1 L616.0,534.3 L619.1,534.4 L622.1,534.5 L625.2,534.6 L628.3,534.7 L631.4,534.8 L634.5,534.9 L637.6,535.0 L640.7,535.1 L643.8,535.2 L646.9,535.3 L650.0,535.4 L653.2,535.4 L656.3,535.5 L659.4,535.6 L662.5,535.7 L665.7,535.8 L668.8,535.8 L672.0,535.9 L675.1,536.0 L678.3,536.1 L681.4,536.1 L684.6,536.2 L687.7,536.2 L690.9,536.3 L694.1,536.4 L697.2,536.4 L700.4,536.5 L703.6,536.5 L706.8,536.6 L710.0,536.6 L713.2,536.7 L716.4,536.7 L719.6,536.8 L722.8,536.8 L726.0,536.9 L729.2,536.9 L732.4,537.0 L735.6,537.0 L738.9,537.1 L742.1,537.1 L745.3,537.1 L748.5,537.2 L751.8,537.2 L755.0,537.3 L758.3,537.3 L761.5,537.3 L764.8,537.4 L768.0,537.4 L771.3,537.4 L774.5,537.5 L777.8,537.5 L781.1,537.5 L784.4,537.5 L787.6,537.6 L790.9,537.6 L794.2,537.6 L797.5,537.7 L800.8,537.7 L804.1,537.7 L807.4,537.7 L810.7,537.8 L814.0,537.8 L817.3,537.8 L820.6,537.8 L823.9,537.9 L827.2,537.9 L830.5,537.9 L833.9,537.9 L837.2,538.0 L840.5,538.0 L843.9,538.0 L847.2,538.0 L850.5,538.1 L853.9,538.1 L857.2,538.1 L860.6,538.1 L863.9,538.1 L867.3,538.2 L870.7,538.2 L874.0,538.2 L877.4,538.2 L880.8,538.2 L884.2,538.3 L887.5,538.3 L890.9,538.3 L894.3,538.3 L897.7,538.3 L901.1,538.4 L904.5,538.4 L907.9,538.4 L911.3,538.4 L914.7,538.5 L918.1,538.5 L921.5,538.5" stroke="#008000" />
<path d="M84.0,15.3 L84.5,17.2 L85.1,20.0 L85.9,23.2 L86.8,26.8 L87.8,30.6 L88.8,34.7 L89.8,38.9 L91.0,43.2 L92.1,47.8 L93.3,52.4 L94.5,57.1 L95.8,61.9 L97.1,66.8 L98.4,71.8 L99.7,76.8 L101.1,81.9 L102.5,87.1 L103.9,92.3 L105.4,97.5 L106.9,102.8 L108.4,108.0 L109.9,113.3 L111.4,118.7 L113.0,124.0 L114.6,129.3 L116.2,134.7 L117.8,140.1 L119.4,145.4 L121.1,150.8 L122.8,156.1 L124.4,161.5 L126.1,166.8 L127.9,172.1 L129.6,177.4 L131.4,182.7 L133.1,187.9 L134.9,193.2 L136.7,198.4 L138.5,203.5 L140.3,208.7 L142.2,213.8 L144.0,218.9 L145.9,224.0 L147.8,229.0 L149.6,234.0 L151.6,239.0 L153.5,243.9 L155.4,248.8 L157.3,253.6 L159.3,258.4 L161.2,263.1 L163.2,267.9 L165.2,272.5 L167.2,277.2 L169.2,281.7 L171.2,286.3 L173.3,290.8 L175.3,295.2 L177.4,299.6 L179.4,303.9 L181.5,308.2 L183.6,312.5 L185.7,316.7 L187.8,320.8 L189.9,324.9 L192.0,329.0 L194.1,333.0 L196.3,336.9 L198.4,340.8 L200.6,344.7 L202.8,348.5 L204.9,352.2 L207.1,355.9 L209.3,359.5 L211.5,363.1 L213.8,366.7 L216.0,370.1 L218.2,373.6 L220.4,377.0 L222.7,380.3 L225.0,383.6 L227.2,386.8 L229.5,390.0 L231.8,393.1 L234.1,396.2 L236.4,399.3 L238.7,402.3 L241.0,405.2 L243.3,408.1 L245.6,410.9 L248.0,413.7 L250.3,416.5 L252.7,419.2 L255.1,421.8 L257.4,424.4 L259.8,427.0 L262.2,429.5 L264.6,432.0 L267.0,434.4 L269.4,436.8 L271.8,439.1 L274.2,441.4 L276.6,443.6 L279.1,445.9 L281.5,448.0 L284.0,450.1 L286.4,452.2 L288.9,454.3 L291.4,456.3 L293.8,458.2 L296.3,460.2 L298.8,462.0 L301.3,463.9 L303.8,465.7 L306.3,467.5 L308.8,469.2 L311.4,470.9 L313.9,472.6 L316.4,474.2 L319.0,475.8 L321.5,477.4 L324.1,478.9 L326.6,480.4 L329.2,481.8 L331.8,483.3 L334.3,484.7 L336.9,486.0 L339.5,487.4 L342.1,488.7 L344.7,490.0 L347.3,491.2 L350.0,492.4 L352.6,493.6 L355.2,494.8 L357.8,495.9 L360.5,497.1 L363.1,498.1 L365.8,499.2 L368.4,500.2 L371.1,501.3 L373.8,502.3 L376.4,503.2 L379.1,504.2 L381.8,505.1 L384.5,506.0 L387.2,506.9 L389.9,507.7 L392.6,508.5 L395.3,509.4 L398.0,510.1 L400.8,510.9 L403.5,511.7 L406.2,512.4 L409.0,513.1 L411.7,513.8 L414.5,514.5 L417.2,515.2 L420.0,515.8 L422.7,516.5 L425.5,517.1 L428.3,517.7 L431.1,518.2 L433.9,518.8 L436.7,519.4 L439.5,519.9 L442.3,520.4 L445.1,520.9 L447.9,521.4 L450.7,521.9 L453.5,522.4 L456.4,522.9 L459.2,523.3 L462.0,523.7 L464.9,524.2 L467.7,524.6 L470.6,525.0 L473.4,525.4 L476.3,525.7 L479.2,526.1 L482.0,526.5 L484.9,526.8 L487.8,527.2 L490.7,527.5 L493.6,527.8 L496.5,528.1 L499.4,528.4 L502.3,528.7 L505.2,529.0 L508.1,529.3 L511.0,529.6 L513.9,529.8 L516.9,530.1 L519.8,530.3 L522.7,530.6 L525.7,530.8 L528.6,531.0 L531.6,531.3 L534.5,531.5 L537.5,531.7 L540.5,531.9 L543.4,532.1 L546.4,532.3 L549.4,532.5 L552.4,532.6 L555.3,532.8 L558.3,533.0 L561.3,533.1 L564.3,533.3 L567.3,533.5 L570.3,533.6 L573.4,533.8 L576.4,533.9 L579.4,534.0 L582.4,534.2 L585.4,534.3 L588.5,534.4 L591.5,534.6 L594.6,534.7 L597.6,534.8 L600.7,534.9 L603.7,535.0 L606.8,535.1 L609.8,535.2 L612.9,535.3 L616.0,535.4 L619.1,535.5 L622.1,535.6 L625.2,535.7 L628.3,535.8 L631.4,535.9 L634.5,536.0 L637.6,536.0 L640.7,536.1 L643.8,536.2 L646.9,536.3 L650.0,536.3 L653.2,536.4 L656.3,536.5 L659.4,536.5 L662.5,536.6 L665.7,536.6 L668.8,536.7 L672.0,536.8 L675.1,536.8 L678.3,536.9 L681.4,536.9 L684.6,537.0 L687.7,537.0 L690.9,537.1 L694.1,537.1 L697.2,537.2 L700.4,537.2 L703.6,537.2 L706.8,537.3 L710.0,537.3 L713.2,537.4 L716.4,537.4 L719.6,537.4 L722.8,537.5 L726.0,537.5 L729.2,537.5 L732.4,537.6 L735.6,537.6 L738.9,537.6 L742.1,537.7 L745.3,537.7 L748.5,537.7 L751.8,537.7 L755.0,537.8 L758.3,537.8 L761.5,537.8 L764.8,537.8 L768.0,537.9 L771.3,537.9 L774.5,537.9 L777.8,537.9 L781.1,538.0 L784.4,538.0 L787.6,538.0 L790.9,538.0 L794.2,538.0 L797.5,538.1 L800.8,538.1 L804.1,538.1 L807.4,538.1 L810.7,538.1 L814.0,538.1 L817.3,538.2 L820.6,538.2 L823.9,538.2 L827.2,538.2 L830.5,538.2 L833.9,538.2 L837.2,538.2 L840.5,538.3 L843.9,538.3 L847.2,538.3 L850.5,538.3 L853.9,538.3 L857.2,538.3 L860.6,538.3 L863.9,538.3 L867.3,538.4 L870.7,538.4 L874.0,538.4 L877.4,538.4 L880.8,538.4 L884.2,538.4 L887.5,538.4 L890.9,538.4 L894.3,538.4 L897.7,538.4 L901.1,538.4 L904.5,538.5 L907.9,538.5 L911.3,538.5 L914.7,538.5 L918.1,538.5 L921.5,538.5" stroke="#008000" />
<path d="M84.0,15.3 L84.5,16.2 L85.1,17.5 L85.9,19.1 L86.8,20.8 L87.8,22.6 L88.8,24.5 L89.8,26.6 L91.0,28.7 L92.1,30.9 L93.3,33.1 L94.5,35.5 L95.8,37.8 L97.1,40.3 L98.4,42.7 L99.7,45.3 L101.1,47.9 L102.5,50.5 L103.9,53.1 L105.4,55.8 L106.9,58.5 L108.4,61.3 L109.9,64.0 L111.4,66.9 L113.0,69.7 L114.6,72.5 L116.2,75.4 L117.8,78.3 L119.4,81.3 L121.1,84.2 L122.8,87.2 L124.4,90.1 L126.1,93.1 L127.9,96.1 L129.6,99.2 L131.4,102.2 L133.1,105.2 L134.9,108.3 L136.7,111.4 L138.5,114.5 L140.3,117.6 L142.2,120.6 L144.0,123.8 L145.9,126.9 L147.8,130.0 L149.6,133.1 L151.6,136.2 L153.5,139.4 L155.4,142.5 L157.3,145.6 L159.3,148.8 L161.2,151.9 L163.2,155.1 L165.2,158.2 L167.2,161.4 L169.2,164.5 L171.2,167.7 L173.3,170.8 L175.3,173.9 L177.4,177.1 L179.4,180.2 L181.5,183.3 L183.6,186.5 L185.7,189.6 L187.8,192.7 L189.9,195.8 L192.0,198.9 L194.1,202.0 L196.3,205.1 L198.4,208.2 L200.6,211.3 L202.8,214.4 L204.9,217.4 L207.1,220.5 L209.3,223.6 L211.5,226.6 L213.8,229.6 L216.0,232.6 L218.2,235.7 L220.4,238.7 L222.7,241.6 L225.0,244.6 L227.2,247.6 L229.5,250.6 L231.8,253.5 L234.1,256.4 L236.4,259.3 L238.7,262.3 L241.0,265.1 L243.3,268.0 L245.6,270.9 L248.0,273.8 L250.3,276.6 L252.7,279.4 L255.1,282.2 L257.4,285.0 L259.8,287.8 L262.2,290.6 L264.6,293.3 L267.0,296.1 L269.4,298.8 L271.8,301.5 L274.2,304.2 L276.6,306.8 L279.1,309.5 L281.5,312.1 L284.0,314.8 L286.4,317.4 L288.9,320.0 L291.4,322.5 L293.8,325.1 L296.3,327.6 L298.8,330.1 L301.3,332.6 L303.8,335.1 L306.3,337.6 L308.8,340.0 L311.4,342.5 L313.9,344.9 L316.4,347.3 L319.0,349.6 L321.5,352.0 L324.1,354.3 L326.6,356.6 L329.2,358.9 L331.8,361.2 L334.3,363.5 L336.9,365.7 L339.5,368.0 L342.1,370.2 L344.7,372.3 L347.3,374.5 L350.0,376.6 L352.6,378.8 L355.2,380.9 L357.8,383.0 L360.5,385.0 L363.1,387.1 L365.8,389.1 L368.4,391.1 L371.1,393.1 L373.8,395.1 L376.4,397.1 L379.1,399.0 L381.8,400.9 L384.5,402.8 L387.2,404.7 L389.9,406.5 L392.6,408.4 L395.3,410.2 L398.0,412.0 L400.8,413.8 L403.5,415.5 L406.2,417.3 L409.0,419.0 L411.7,420.7 L414.5,422.4 L417.2,424.1 L420.0,425.7 L422.7,427.3 L425.5,428.9 L428.3,430.5 L431.1,432.1 L433.9,433.7 L436.7,435.2 L439.5,436.7 L442.3,438.2 L445.1,439.7 L447.9,441.2 L450.7,442.6 L453.5,444.1 L456.4,445.5 L459.2,446.9 L462.0,448.3 L464.9,449.6 L467.7,451.0 L470.6,452.3 L473.4,453.6 L476.3,454.9 L479.2,456.2 L482.0,457.4 L484.9,458.7 L487.8,459.9 L490.7,461.1 L493.6,462.3 L496.5,463.5 L499.4,464.7 L502.3,465.8 L505.2,467.0 L508.1,468.1 L511.0,469.2 L513.9,470.3 L516.9,471.3 L519.8,472.4 L522.7,473.5 L525.7,474.5 L528.6,475.5 L531.6,476.5 L534.5,477.5 L537.5,478.5 L540.5,479.4 L543.4,480.4 L546.4,481.3 L549.4,482.2 L552.4,483.1 L555.3,484.0 L558.3,484.9 L561.3,485.8 L564.3,486.6 L567.3,487.5 L570.3,488.3 L573.4,489.1 L576.4,490.0 L579.4,490.7 L582.4,491.5 L585.4,492.3 L588.5,493.1 L591.5,493.8 L594.6,494.6 L597.6,495.3 L600.7,496.0 L603.7,496.7 L606.8,497.4 L609.8,498.1 L612.9,498.8 L616.0,499.4 L619.1,500.1 L622.1,500.8 L625.2,501.4 L628.3,502.0 L631.4,502.6 L634.5,503.3 L637.6,503.9 L640.7,504.4 L643.8,505.0 L646.9,505.6 L650.0,506.2 L653.2,506.7 L656.3,507.3 L659.4,507.8 L662.5,508.4 L665.7,508.9 L668.8,509.4 L672.0,509.9 L675.1,510.4 L678.3,510.9 L681.4,511.4 L684.6,511.9 L687.7,512.4 L690.9,512.9 L694.1,513.3 L697.2,513.8 L700.4,514.2 L703.6,514.7 L706.8,515.1 L710.0,515.6 L713.2,516.0 L716.4,516.4 L719.6,516.8 L722.8,517.3 L726.0,517.7 L729.2,518.1 L732.4,518.5 L735.6,518.9 L738.9,519.3 L742.1,519.7 L745.3,520.0 L748.5,520.4 L751.8,520.8 L755.0,521.2 L758.3,521.5 L761.5,521.9 L764.8,522.3 L768.0,522.6 L771.3,523.0 L774.5,523.3 L777.8,523.7 L781.1,524.0 L784.4,524.4 L787.6,524.7 L790.9,525.0 L794.2,525.4 L797.5,525.7 L800.8,526.0 L804.1,526.4 L807.4,526.7 L810.7,527.0 L814.0,527.4 L817.3,527.7 L820.6,528.0 L823.9,528.3 L827.2,528.7 L830.5,529.0 L833.9,529.3 L837.2,529.6 L840.5,530.0 L843.9,530.3 L847.2,530.6 L850.5,530.9 L853.9,531.3 L857.2,531.6 L860.6,531.9 L863.9,532.3 L867.3,532.6 L870.7,533.0 L874.0,533.3 L877.4,533.6 L880.8,534.0 L884.2,534.3 L887.5,534.7 L890.9,535.0 L894.3,535.4 L897.7,535.8 L901.1,536.1 L904.5,536.5 L907.9,536.9 L911.3,537.3 L914.7,537.7 L918.1,538.1 L921.5,538.5" stroke="#a8a8ff" stroke-width="2"/>
<path d="M84.0,15.3 L84.5,16.2 L85.1,17.5 L85.9,19.1 L86.8,20.8 L87.8,22.6 L88.8,24.5 L89.8,26.6 L91.0,28.7 L92.1,30.9 L93.3,33.1 L94.5,35.5 L95.8,37.8 L97.1,40.3 L98.4,42.7 L99.7,45.3 L101.1,47.9 L102.5,50.5 L103.9,53.1 L105.4,55.8 L106.9,58.5 L108.4,61.3 L109.9,64.0 L111.4,66.9 L113.0,69.7 L114.6,72.5 L116.2,75.4 L117.8,78.3 L119.4,81.3 L121.1,84.2 L122.8,87.2 L124.4,90.1 L126.1,93.1 L127.9,96.1 L129.6,99.2 L131.4,102.2 L133.1,105.2 L134.9,108.3 L136.7,111.4 L138.5,114.5 L140.3,117.6 L142.2,120.6 L144.0,123.8 L145.9,126.9 L147.8,130.0 L149.6,133.1 L151.6,136.2 L153.5,139.4 L155.4,142.5 L157.3,145.6 L159.3,148.8 L161.2,151.9 L163.2,155.1 L165.2,158.2 L167.2,161.4 L169.2,164.5 L171.2,167.7 L173.3,170.8 L175.3,173.9 L177.4,177.1 L179.4,180.2 L181.5,183.3 L183.6,186.5 L185.7,189.6 L187.8,192.7 L189.9,195.8 L192.0,198.9 L194.1,202.0 L196.3,205.1 L198.4,208.2 L200.6,211.3 L202.8,214.4 L204.9,217.4 L207.1,220.5 L209.3,223.6 L211.5,226.6 L213.8,229.6 L216.0,232.6 L218.2,235.7 L220.4,238.7 L222.7,241.6 L225.0,244.6 L227.2,247.6 L229.5,250.6 L231.8,253.5 L234.1,256.4 L236.4,259.3 L238.7,262.3 L241.0,265.1 L243.3,268.0 L245.6,270.9 L248.0,273.8 L250.3,276.6 L252.7,279.4 L255.1,282.2 L257.4,285.0 L259.8,287.8 L262.2,290.6 L264.6,293.3 L267.0,296.1 L269.4,298.8 L271.8,301.5 L274.2,304.2 L276.6,306.8 L279.1,309.5 L281.5,312.1 L284.0,314.8 L286.4,317.4 L288.9,320.0 L291.4,322.5 L293.8,325.1 L296.3,327.6 L298.8,330.1 L301.3,332.6 L303.8,335.1 L306.3,337.6 L308.8,340.0 L311.4,342.5 L313.9,344.9 L316.4,347.3 L319.0,349.6 L321.5,352.0 L324.1,354.3 L326.6,356.6 L329.2,358.9 L331.8,361.2 L334.3,363.5 L336.9,365.7 L339.5,368.0 L342.1,370.2 L344.7,372.3 L347.3,374.5 L350.0,376.6 L352.6,378.8 L355.2,380.9 L357.8,383.0 L360.5,385.0 L363.1,387.1 L365.8,389.1 L368.4,391.1 L371.1,393.1 L373.8,395.1 L376.4,397.1 L379.1,399.0 L381.8,400.9 L384.5,402.8 L387.2,404.7 L389.9,406.5 L392.6,408.4 L395.3,410.2 L398.0,412.0 L400.8,413.8 L403.5,415.5 L406.2,417.3 L409.0,419.0 L411.7,420.7 L414.5,422.4 L417.2,424.1 L420.0,425.7 L422.7,427.3 L425.5,428.9 L428.3,430.5 L431.1,432.1 L433.9,433.7 L436.7,435.2 L439.5,436.7 L442.3,438.2 L445.1,439.7 L447.9,441.2 L450.7,442.6 L453.5,444.1 L456.4,445.5 L459.2,446.9 L462.0,448.3 L464.9,449.6 L467.7,451.0 L470.6,452.3 L473.4,453.6 L476.3,454.9 L479.2,456.2 L482.0,457.4 L484.9,458.7 L487.8,459.9 L490.7,461.1 L493.6,462.3 L496.5,463.5 L499.4,464.7 L502.3,465.8 L505.2,467.0 L508.1,468.1 L511.0,469.2 L513.9,470.3 L516.9,471.3 L519.8,472.4 L522.7,473.5 L525.7,474.5 L528.6,475.5 L531.6,476.5 L534.5,477.5 L537.5,478.5 L540.5,479.4 L543.4,480.4 L546.4,481.3 L549.4,482.2 L552.4,483.1 L555.3,484.0 L558.3,484.9 L561.3,485.8 L564.3,486.6 L567.3,487.5 L570.3,488.3 L573.4,489.1 L576.4,490.0 L579.4,490.7 L582.4,491.5 L585.4,492.3 L588.5,493.1 L591.5,493.8 L594.6,494.6 L597.6,495.3 L600.7,496.0 L603.7,496.7 L606.8,497.4 L609.8,498.1 L612.9,498.8 L616.0,499.4 L619.1,500.1 L622.1,500.8 L625.2,501.4 L628.3,502.0 L631.4,502.6 L634.5,503.3 L637.6,503.9 L640.7,504.4 L643.8,505.0 L646.9,505.6 L650.0,506.2 L653.2,506.7 L656.3,507.3 L659.4,507.8 L662.5,508.4 L665.7,508.9 L668.8,509.4 L672.0,509.9 L675.1,510.4 L678.3,510.9 L681.4,511.4 L684.6,511.9 L687.7,512.4 L690.9,512.9 L694.1,513.3 L697.2,513.8 L700.4,514.2 L703.6,514.7 L706.8,515.1 L710.0,515.6 L713.2,516.0 L716.4,516.4 L719.6,516.8 L722.8,517.3 L726.0,517.7 L729.2,518.1 L732.4,518.5 L735.6,518.9 L738.9,519.3 L742.1,519.7 L745.3,520.0 L748.5,520.4 L751.8,520.8 L755.0,521.2 L758.3,521.5 L761.5,521.9 L764.8,522.3 L768.0,522.6 L771.3,523.0 L774.5,523.3 L777.8,523.7 L781.1,524.0 L784.4,524.4 L787.6,524.7 L790.9,525.0 L794.2,525.4 L797.5,525.7 L800.8,526.0 L804.1,526.4 L807.4,526.7 L810.7,527.0 L814.0,527.4 L817.3,527.7 L820.6,528.0 L823.9,528.3 L827.2,528.7 L830.5,529.0 L833.9,529.3 L837.2,529.6 L840.5,530.0 L843.9,530.3 L847.2,530.6 L850.5,530.9 L853.9,531.3 L857.2,531.6 L860.6,531.9 L863.9,532.3 L867.3,532.6 L870.7,533.0 L874.0,533.3 L877.4,533.6 L880.8,534.0 L884.2,534.3 L887.5,534.7 L890.9,535.0 L894.3,535.4 L897.7,535.8 L901.1,536.1 L904.5,536.5 L907.9,536.9 L911.3,537.3 L914.7,537.7 L918.1,538.1 L921.5,538.5" stroke="#0000ff" stroke-dasharray="4 2.6"/>
<path d="M84.0,15.3 L84.5,16.3 L85.1,17.7 L85.9,19.3 L86.8,21.1 L87.8,23.1 L88.8,25.2 L89.8,27.3 L91.0,29.6 L92.1,31.9 L93.3,34.4 L94.5,36.8 L95.8,39.4 L97.1,42.0 L98.4,44.6 L99.7,47.3 L101.1,50.1 L102.5,52.9 L103.9,55.7 L105.4,58.5 L106.9,61.4 L108.4,64.4 L109.9,67.3 L111.4,70.3 L113.0,73.3 L114.6,76.4 L116.2,79.4 L117.8,82.5 L119.4,85.6 L121.1,88.8 L122.8,91.9 L124.4,95.1 L126.1,98.2 L127.9,101.4 L129.6,104.6 L131.4,107.9 L133.1,111.1 L134.9,114.3 L136.7,117.6 L138.5,120.8 L140.3,124.1 L142.2,127.4 L144.0,130.7 L145.9,133.9 L147.8,137.2 L149.6,140.5 L151.6,143.8 L153.5,147.1 L155.4,150.4 L157.3,153.7 L159.3,157.0 L161.2,160.3 L163.2,163.6 L165.2,166.9 L167.2,170.2 L169.2,173.5 L171.2,176.8 L173.3,180.1 L175.3,183.4 L177.4,186.6 L179.4,189.9 L181.5,193.2 L183.6,196.4 L185.7,199.7 L187.8,202.9 L189.9,206.2 L192.0,209.4 L194.1,212.6 L196.3,215.8 L198.4,219.0 L200.6,222.2 L202.8,225.4 L204.9,228.6 L207.1,231.7 L209.3,234.9 L211.5,238.0 L213.8,241.1 L216.0,244.3 L218.2,247.4 L220.4,250.4 L222.7,253.5 L225.0,256.6 L227.2,259.6 L229.5,262.6 L231.8,265.6 L234.1,268.6 L236.4,271.6 L238.7,274.6 L241.0,277.5 L243.3,280.5 L245.6,283.4 L248.0,286.3 L250.3,289.2 L252.7,292.0 L255.1,294.9 L257.4,297.7 L259.8,300.5 L262.2,303.3 L264.6,306.1 L267.0,308.9 L269.4,311.6 L271.8,314.3 L274.2,317.0 L276.6,319.7 L279.1,322.4 L281.5,325.0 L284.0,327.7 L286.4,330.3 L288.9,332.9 L291.4,335.4 L293.8,338.0 L296.3,340.5 L298.8,343.0 L301.3,345.5 L303.8,348.0 L306.3,350.4 L308.8,352.9 L311.4,355.3 L313.9,357.7 L316.4,360.0 L319.0,362.4 L321.5,364.7 L324.1,367.0 L326.6,369.3 L329.2,371.6 L331.8,373.8 L334.3,376.0 L336.9,378.2 L339.5,380.4 L342.1,382.6 L344.7,384.7 L347.3,386.8 L350.0,388.9 L352.6,391.0 L355.2,393.0 L357.8,395.1 L360.5,397.1 L363.1,399.1 L365.8,401.1 L368.4,403.0 L371.1,405.0 L373.8,406.9 L376.4,408.8 L379.1,410.6 L381.8,412.5 L384.5,414.3 L387.2,416.1 L389.9,417.9 L392.6,419.7 L395.3,421.4 L398.0,423.2 L400.8,424.9 L403.5,426.6 L406.2,428.2 L409.0,429.9 L411.7,431.5 L414.5,433.1 L417.2,434.7 L420.0,436.3 L422.7,437.8 L425.5,439.4 L428.3,440.9 L431.1,442.4 L433.9,443.9 L436.7,445.3 L439.5,446.8 L442.3,448.2 L445.1,449.6 L447.9,451.0 L450.7,452.4 L453.5,453.7 L456.4,455.1 L459.2,456.4 L462.0,457.7 L464.9,459.0 L467.7,460.2 L470.6,461.5 L473.4,462.7 L476.3,463.9 L479.2,465.1 L482.0,466.3 L484.9,467.5 L487.8,468.6 L490.7,469.8 L493.6,470.9 L496.5,472.0 L499.4,473.1 L502.3,474.2 L505.2,475.2 L508.1,476.3 L511.0,477.3 L513.9,478.3 L516.9,479.3 L519.8,480.3 L522.7,481.3 L525.7,482.2 L528.6,483.2 L531.6,484.1 L534.5,485.0 L537.5,485.9 L540.5,486.8 L543.4,487.7 L546.4,488.5 L549.4,489.4 L552.4,490.2 L555.3,491.1 L558.3,491.9 L561.3,492.7 L564.3,493.5 L567.3,494.2 L570.3,495.0 L573.4,495.8 L576.4,496.5 L579.4,497.2 L582.4,497.9 L585.4,498.7 L588.5,499.4 L591.5,500.0 L594.6,500.7 L597.6,501.4 L600.7,502.0 L603.7,502.7 L606.8,503.3 L609.8,503.9 L612.9,504.6 L616.0,505.2 L619.1,505.8 L622.1,506.4 L625.2,506.9 L628.3,507.5 L631.4,508.1 L634.5,508.6 L637.6,509.2 L640.7,509.7 L643.8,510.2 L646.9,510.7 L650.0,511.3 L653.2,511.8 L656.3,512.3 L659.4,512.8 L662.5,513.2 L665.7,513.7 L668.8,514.2 L672.0,514.6 L675.1,515.1 L678.3,515.5 L681.4,516.0 L684.6,516.4 L687.7,516.8 L690.9,517.3 L694.1,517.7 L697.2,518.1 L700.4,518.5 L703.6,518.9 L706.8,519.3 L710.0,519.7 L713.2,520.0 L716.4,520.4 L719.6,520.8 L722.8,521.2 L726.0,521.5 L729.2,521.9 L732.4,522.2 L735.6,522.6 L738.9,522.9 L742.1,523.2 L745.3,523.6 L748.5,523.9 L751.8,524.2 L755.0,524.6 L758.3,524.9 L761.5,525.2 L764.8,525.5 L768.0,525.8 L771.3,526.1 L774.5,526.4 L777.8,526.7 L781.1,527.0 L784.4,527.3 L787.6,527.6 L790.9,527.9 L794.2,528.2 L797.5,528.4 L800.8,528.7 L804.1,529.0 L807.4,529.3 L810.7,529.5 L814.0,529.8 L817.3,530.1 L820.6,530.4 L823.9,530.6 L827.2,530.9 L830.5,531.2 L833.9,531.4 L837.2,531.7 L840.5,532.0 L843.9,532.2 L847.2,532.5 L850.5,532.7 L853.9,533.0 L857.2,533.3 L860.6,533.5 L863.9,533.8 L867.3,534.1 L870.7,534.3 L874.0,534.6 L877.4,534.8 L880.8,535.1 L884.2,535.4 L887.5,535.7 L890.9,535.9 L894.3,536.2 L897.7,536.5 L901.1,536.8 L904.5,537.0 L907.9,537.3 L911.3,537.6 L914.7,537.9 L918.1,538.2 L921.5,538.5" stroke="#a8a8ff" stroke-width="2"/>
<path d="M84.0,15.3 L84.5,16.3 L85.1,17.7 L85.9,19.3 L86.8,21.1 L87.8,23.1 L88.8,25.2 L89.8,27.3 L91.0,29.6 L92.1,31.9 L93.3,34.4 L94.5,36.8 L95.8,39.4 L97.1,42.0 L98.4,44.6 L99.7,47.3 L101.1,50.1 L102.5,52.9 L103.9,55.7 L105.4,58.5 L106.9,61.4 L108.4,64.4 L109.9,67.3 L111.4,70.3 L113.0,73.3 L114.6,76.4 L116.2,79.4 L117.8,82.5 L119.4,85.6 L121.1,88.8 L122.8,91.9 L124.4,95.1 L126.1,98.2 L127.9,101.4 L129.6,104.6 L131.4,107.9 L133.1,111.1 L134.9,114.3 L136.7,117.6 L138.5,120.8 L140.3,124.1 L142.2,127.4 L144.0,130.7 L145.9,133.9 L147.8,137.2 L149.6,140.5 L151.6,143.8 L153.5,147.1 L155.4,150.4 L157.3,153.7 L159.3,157.0 L161.2,160.3 L163.2,163.6 L165.2,166.9 L167.2,170.2 L169.2,173.5 L171.2,176.8 L173.3,180.1 L175.3,183.4 L177.4,186.6 L179.4,189.9 L181.5,193.2 L183.6,196.4 L185.7,199.7 L187.8,202.9 L189.9,206.2 L192.0,209.4 L194.1,212.6 L196.3,215.8 L198.4,219.0 L200.6,222.2 L202.8,225.4 L204.9,228.6 L207.1,231.7 L209.3,234.9 L211.5,238.0 L213.8,241.1 L216.0,244.3 L218.2,247.4 L220.4,250.4 L222.7,253.5 L225.0,256.6 L227.2,259.6 L229.5,262.6 L231.8,265.6 L234.1,268.6 L236.4,271.6 L238.7,274.6 L241.0,277.5 L243.3,280.5 L245.6,283.4 L248.0,286.3 L250.3,289.2 L252.7,292.0 L255.1,294.9 L257.4,297.7 L259.8,300.5 L262.2,303.3 L264.6,306.1 L267.0,308.9 L269.4,311.6 L271.8,314.3 L274.2,317.0 L276.6,319.7 L279.1,322.4 L281.5,325.0 L284.0,327.7 L286.4,330.3 L288.9,332.9 L291.4,335.4 L293.8,338.0 L296.3,340.5 L298.8,343.0 L301.3,345.5 L303.8,348.0 L306.3,350.4 L308.8,352.9 L311.4,355.3 L313.9,357.7 L316.4,360.0 L319.0,362.4 L321.5,364.7 L324.1,367.0 L326.6,369.3 L329.2,371.6 L331.8,373.8 L334.3,376.0 L336.9,378.2 L339.5,380.4 L342.1,382.6 L344.7,384.7 L347.3,386.8 L350.0,388.9 L352.6,391.0 L355.2,393.0 L357.8,395.1 L360.5,397.1 L363.1,399.1 L365.8,401.1 L368.4,403.0 L371.1,405.0 L373.8,406.9 L376.4,408.8 L379.1,410.6 L381.8,412.5 L384.5,414.3 L387.2,416.1 L389.9,417.9 L392.6,419.7 L395.3,421.4 L398.0,423.2 L400.8,424.9 L403.5,426.6 L406.2,428.2 L409.0,429.9 L411.7,431.5 L414.5,433.1 L417.2,434.7 L420.0,436.3 L422.7,437.8 L425.5,439.4 L428.3,440.9 L431.1,442.4 L433.9,443.9 L436.7,445.3 L439.5,446.8 L442.3,448.2 L445.1,449.6 L447.9,451.0 L450.7,452.4 L453.5,453.7 L456.4,455.1 L459.2,456.4 L462.0,457.7 L464.9,459.0 L467.7,460.2 L470.6,461.5 L473.4,462.7 L476.3,463.9 L479.2,465.1 L482.0,466.3 L484.9,467.5 L487.8,468.6 L490.7,469.8 L493.6,470.9 L496.5,472.0 L499.4,473.1 L502.3,474.2 L505.2,475.2 L508.1,476.3 L511.0,477.3 L513.9,478.3 L516.9,479.3 L519.8,480.3 L522.7,481.3 L525.7,482.2 L528.6,483.2 L531.6,484.1 L534.5,485.0 L537.5,485.9 L540.5,486.8 L543.4,487.7 L546.4,488.5 L549.4,489.4 L552.4,490.2 L555.3,491.1 L558.3,491.9 L561.3,492.7 L564.3,493.5 L567.3,494.2 L570.3,495.0 L573.4,495.8 L576.4,496.5 L579.4,497.2 L582.4,497.9 L585.4,498.7 L588.5,499.4 L591.5,500.0 L594.6,500.7 L597.6,501.4 L600.7,502.0 L603.7,502.7 L606.8,503.3 L609.8,503.9 L612.9,504.6 L616.0,505.2 L619.1,505.8 L622.1,506.4 L625.2,506.9 L628.3,507.5 L631.4,508.1 L634.5,508.6 L637.6,509.2 L640.7,509.7 L643.8,510.2 L646.9,510.7 L650.0,511.3 L653.2,511.8 L656.3,512.3 L659.4,512.8 L662.5,513.2 L665.7,513.7 L668.8,514.2 L672.0,514.6 L675.1,515.1 L678.3,515.5 L681.4,516.0 L684.6,516.4 L687.7,516.8 L690.9,517.3 L694.1,517.7 L697.2,518.1 L700.4,518.5 L703.6,518.9 L706.8,519.3 L710.0,519.7 L713.2,520.0 L716.4,520.4 L719.6,520.8 L722.8,521.2 L726.0,521.5 L729.2,521.9 L732.4,522.2 L735.6,522.6 L738.9,522.9 L742.1,523.2 L745.3,523.6 L748.5,523.9 L751.8,524.2 L755.0,524.6 L758.3,524.9 L761.5,525.2 L764.8,525.5 L768.0,525.8 L771.3,526.1 L774.5,526.4 L777.8,526.7 L781.1,527.0 L784.4,527.3 L787.6,527.6 L790.9,527.9 L794.2,528.2 L797.5,528.4 L800.8,528.7 L804.1,529.0 L807.4,529.3 L810.7,529.5 L814.0,529.8 L817.3,530.1 L820.6,530.4 L823.9,530.6 L827.2,530.9 L830.5,531.2 L833.9,531.4 L837.2,531.7 L840.5,532.0 L843.9,532.2 L847.2,532.5 L850.5,532.7 L853.9,533.0 L857.2,533.3 L860.6,533.5 L863.9,533.8 L867.3,534.1 L870.7,534.3 L874.0,534.6 L877.4,534.8 L880.8,535.1 L884.2,535.4 L887.5,535.7 L890.9,535.9 L894.3,536.2 L897.7,536.5 L901.1,536.8 L904.5,537.0 L907.9,537.3 L911.3,537.6 L914.7,537.9 L918.1,538.2 L921.5,538.5" stroke="#0000ff" stroke-dasharray="4 2.6"/>
<path d="M84.0,15.3 L84.5,16.3 L85.1,17.8 L85.9,19.6 L86.8,21.5 L87.8,23.6 L88.8,25.8 L89.8,28.1 L91.0,30.5 L92.1,33.0 L93.3,35.6 L94.5,38.2 L95.8,40.9 L97.1,43.7 L98.4,46.5 L99.7,49.4 L101.1,52.3 L102.5,55.2 L103.9,58.2 L105.4,61.3 L106.9,64.4 L108.4,67.5 L109.9,70.6 L111.4,73.8 L113.0,77.0 L114.6,80.2 L116.2,83.4 L117.8,86.7 L119.4,90.0 L121.1,93.3 L122.8,96.6 L124.4,100.0 L126.1,103.4 L127.9,106.7 L129.6,110.1 L131.4,113.5 L133.1,116.9 L134.9,120.3 L136.7,123.8 L138.5,127.2 L140.3,130.6 L142.2,134.1 L144.0,137.5 L145.9,141.0 L147.8,144.5 L149.6,147.9 L151.6,151.4 L153.5,154.9 L155.4,158.3 L157.3,161.8 L159.3,165.2 L161.2,168.7 L163.2,172.2 L165.2,175.6 L167.2,179.1 L169.2,182.5 L171.2,185.9 L173.3,189.4 L175.3,192.8 L177.4,196.2 L179.4,199.6 L181.5,203.0 L183.6,206.4 L185.7,209.8 L187.8,213.2 L189.9,216.5 L192.0,219.9 L194.1,223.2 L196.3,226.5 L198.4,229.9 L200.6,233.2 L202.8,236.4 L204.9,239.7 L207.1,243.0 L209.3,246.2 L211.5,249.5 L213.8,252.7 L216.0,255.9 L218.2,259.0 L220.4,262.2 L222.7,265.4 L225.0,268.5 L227.2,271.6 L229.5,274.7 L231.8,277.8 L234.1,280.9 L236.4,283.9 L238.7,286.9 L241.0,289.9 L243.3,292.9 L245.6,295.9 L248.0,298.8 L250.3,301.8 L252.7,304.7 L255.1,307.6 L257.4,310.4 L259.8,313.3 L262.2,316.1 L264.6,318.9 L267.0,321.7 L269.4,324.5 L271.8,327.2 L274.2,329.9 L276.6,332.6 L279.1,335.3 L281.5,338.0 L284.0,340.6 L286.4,343.2 L288.9,345.8 L291.4,348.4 L293.8,350.9 L296.3,353.4 L298.8,355.9 L301.3,358.4 L303.8,360.9 L306.3,363.3 L308.8,365.7 L311.4,368.1 L313.9,370.4 L316.4,372.8 L319.0,375.1 L321.5,377.4 L324.1,379.7 L326.6,381.9 L329.2,384.2 L331.8,386.4 L334.3,388.6 L336.9,390.7 L339.5,392.9 L342.1,395.0 L344.7,397.1 L347.3,399.1 L350.0,401.2 L352.6,403.2 L355.2,405.2 L357.8,407.2 L360.5,409.2 L363.1,411.1 L365.8,413.0 L368.4,414.9 L371.1,416.8 L373.8,418.6 L376.4,420.5 L379.1,422.3 L381.8,424.1 L384.5,425.8 L387.2,427.6 L389.9,429.3 L392.6,431.0 L395.3,432.7 L398.0,434.3 L400.8,436.0 L403.5,437.6 L406.2,439.2 L409.0,440.8 L411.7,442.3 L414.5,443.9 L417.2,445.4 L420.0,446.9 L422.7,448.4 L425.5,449.8 L428.3,451.3 L431.1,452.7 L433.9,454.1 L436.7,455.5 L439.5,456.8 L442.3,458.2 L445.1,459.5 L447.9,460.8 L450.7,462.1 L453.5,463.4 L456.4,464.7 L459.2,465.9 L462.0,467.1 L464.9,468.3 L467.7,469.5 L470.6,470.7 L473.4,471.8 L476.3,473.0 L479.2,474.1 L482.0,475.2 L484.9,476.3 L487.8,477.4 L490.7,478.4 L493.6,479.5 L496.5,480.5 L499.4,481.5 L502.3,482.5 L505.2,483.5 L508.1,484.5 L511.0,485.4 L513.9,486.4 L516.9,487.3 L519.8,488.2 L522.7,489.1 L525.7,490.0 L528.6,490.8 L531.6,491.7 L534.5,492.5 L537.5,493.4 L540.5,494.2 L543.4,495.0 L546.4,495.8 L549.4,496.6 L552.4,497.3 L555.3,498.1 L558.3,498.8 L561.3,499.6 L564.3,500.3 L567.3,501.0 L570.3,501.7 L573.4,502.4 L576.4,503.0 L579.4,503.7 L582.4,504.4 L585.4,505.0 L588.5,505.6 L591.5,506.3 L594.6,506.9 L597.6,507.5 L600.7,508.1 L603.7,508.6 L606.8,509.2 L609.8,509.8 L612.9,510.3 L616.0,510.9 L619.1,511.4 L622.1,512.0 L625.2,512.5 L628.3,513.0 L631.4,513.5 L634.5,514.0 L637.6,514.5 L640.7,515.0 L643.8,515.4 L646.9,515.9 L650.0,516.3 L653.2,516.8 L656.3,517.2 L659.4,517.7 L662.5,518.1 L665.7,518.5 L668.8,518.9 L672.0,519.3 L675.1,519.7 L678.3,520.1 L681.4,520.5 L684.6,520.9 L687.7,521.3 L690.9,521.7 L694.1,522.0 L697.2,522.4 L700.4,522.7 L703.6,523.1 L706.8,523.4 L710.0,523.8 L713.2,524.1 L716.4,524.4 L719.6,524.7 L722.8,525.0 L726.0,525.4 L729.2,525.7 L732.4,526.0 L735.6,526.3 L738.9,526.6 L742.1,526.8 L745.3,527.1 L748.5,527.4 L751.8,527.7 L755.0,528.0 L758.3,528.2 L761.5,528.5 L764.8,528.8 L768.0,529.0 L771.3,529.3 L774.5,529.5 L777.8,529.8 L781.1,530.0 L784.4,530.2 L787.6,530.5 L790.9,530.7 L794.2,530.9 L797.5,531.2 L800.8,531.4 L804.1,531.6 L807.4,531.8 L810.7,532.1 L814.0,532.3 L817.3,532.5 L820.6,532.7 L823.9,532.9 L827.2,533.1 L830.5,533.3 L833.9,533.5 L837.2,533.7 L840.5,533.9 L843.9,534.1 L847.2,534.3 L850.5,534.5 L853.9,534.7 L857.2,534.9 L860.6,535.1 L863.9,535.3 L867.3,535.5 L870.7,535.7 L874.0,535.9 L877.4,536.1 L880.8,536.2 L884.2,536.4 L887.5,536.6 L890.9,536.8 L894.3,537.0 L897.7,537.2 L901.1,537.4 L904.5,537.6 L907.9,537.7 L911.3,537.9 L914.7,538.1 L918.1,538.3 L921.5,538.5" stroke="#a8a8ff" stroke-width="2"/>
<path d="M84.0,15.3 L84.5,16.3 L85.1,17.8 L85.9,19.6 L86.8,21.5 L87.8,23.6 L88.8,25.8 L89.8,28.1 L91.0,30.5 L92.1,33.0 L93.3,35.6 L94.5,38.2 L95.8,40.9 L97.1,43.7 L98.4,46.5 L99.7,49.4 L101.1,52.3 L102.5,55.2 L103.9,58.2 L105.4,61.3 L106.9,64.4 L108.4,67.5 L109.9,70.6 L111.4,73.8 L113.0,77.0 L114.6,80.2 L116.2,83.4 L117.8,86.7 L119.4,90.0 L121.1,93.3 L122.8,96.6 L124.4,100.0 L126.1,103.4 L127.9,106.7 L129.6,110.1 L131.4,113.5 L133.1,116.9 L134.9,120.3 L136.7,123.8 L138.5,127.2 L140.3,130.6 L142.2,134.1 L144.0,137.5 L145.9,141.0 L147.8,144.5 L149.6,147.9 L151.6,151.4 L153.5,154.9 L155.4,158.3 L157.3,161.8 L159.3,165.2 L161.2,168.7 L163.2,172.2 L165.2,175.6 L167.2,179.1 L169.2,182.5 L171.2,185.9 L173.3,189.4 L175.3,192.8 L177.4,196.2 L179.4,199.6 L181.5,203.0 L183.6,206.4 L185.7,209.8 L187.8,213.2 L189.9,216.5 L192.0,219.9 L194.1,223.2 L196.3,226.5 L198.4,229.9 L200.6,233.2 L202.8,236.4 L204.9,239.7 L207.1,243.0 L209.3,246.2 L211.5,249.5 L213.8,252.7 L216.0,255.9 L218.2,259.0 L220.4,262.2 L222.7,265.4 L225.0,268.5 L227.2,271.6 L229.5,274.7 L231.8,277.8 L234.1,280.9 L236.4,283.9 L238.7,286.9 L241.0,289.9 L243.3,292.9 L245.6,295.9 L248.0,298.8 L250.3,301.8 L252.7,304.7 L255.1,307.6 L257.4,310.4 L259.8,313.3 L262.2,316.1 L264.6,318.9 L267.0,321.7 L269.4,324.5 L271.8,327.2 L274.2,329.9 L276.6,332.6 L279.1,335.3 L281.5,338.0 L284.0,340.6 L286.4,343.2 L288.9,345.8 L291.4,348.4 L293.8,350.9 L296.3,353.4 L298.8,355.9 L301.3,358.4 L303.8,360.9 L306.3,363.3 L308.8,365.7 L311.4,368.1 L313.9,370.4 L316.4,372.8 L319.0,375.1 L321.5,377.4 L324.1,379.7 L326.6,381.9 L329.2,384.2 L331.8,386.4 L334.3,388.6 L336.9,390.7 L339.5,392.9 L342.1,395.0 L344.7,397.1 L347.3,399.1 L350.0,401.2 L352.6,403.2 L355.2,405.2 L357.8,407.2 L360.5,409.2 L363.1,411.1 L365.8,413.0 L368.4,414.9 L371.1,416.8 L373.8,418.6 L376.4,420.5 L379.1,422.3 L381.8,424.1 L384.5,425.8 L387.2,427.6 L389.9,429.3 L392.6,431.0 L395.3,432.7 L398.0,434.3 L400.8,436.0 L403.5,437.6 L406.2,439.2 L409.0,440.8 L411.7,442.3 L414.5,443.9 L417.2,445.4 L420.0,446.9 L422.7,448.4 L425.5,449.8 L428.3,451.3 L431.1,452.7 L433.9,454.1 L436.7,455.5 L439.5,456.8 L442.3,458.2 L445.1,459.5 L447.9,460.8 L450.7,462.1 L453.5,463.4 L456.4,464.7 L459.2,465.9 L462.0,467.1 L464.9,468.3 L467.7,469.5 L470.6,470.7 L473.4,471.8 L476.3,473.0 L479.2,474.1 L482.0,475.2 L484.9,476.3 L487.8,477.4 L490.7,478.4 L493.6,479.5 L496.5,480.5 L499.4,481.5 L502.3,482.5 L505.2,483.5 L508.1,484.5 L511.0,485.4 L513.9,486.4 L516.9,487.3 L519.8,488.2 L522.7,489.1 L525.7,490.0 L528.6,490.8 L531.6,491.7 L534.5,492.5 L537.5,493.4 L540.5,494.2 L543.4,495.0 L546.4,495.8 L549.4,496.6 L552.4,497.3 L555.3,498.1 L558.3,498.8 L561.3,499.6 L564.3,500.3 L567.3,501.0 L570.3,501.7 L573.4,502.4 L576.4,503.0 L579.4,503.7 L582.4,504.4 L585.4,505.0 L588.5,505.6 L591.5,506.3 L594.6,506.9 L597.6,507.5 L600.7,508.1 L603.7,508.6 L606.8,509.2 L609.8,509.8 L612.9,510.3 L616.0,510.9 L619.1,511.4 L622.1,512.0 L625.2,512.5 L628.3,513.0 L631.4,513.5 L634.5,514.0 L637.6,514.5 L640.7,515.0 L643.8,515.4 L646.9,515.9 L650.0,516.3 L653.2,516.8 L656.3,517.2 L659.4,517.7 L662.5,518.1 L665.7,518.5 L668.8,518.9 L672.0,519.3 L675.1,519.7 L678.3,520.1 L681.4,520.5 L684.6,520.9 L687.7,521.3 L690.9,521.7 L694.1,522.0 L697.2,522.4 L700.4,522.7 L703.6,523.1 L706.8,523.4 L710.0,523.8 L713.2,524.1 L716.4,524.4 L719.6,524.7 L722.8,525.0 L726.0,525.4 L729.2,525.7 L732.4,526.0 L735.6,526.3 L738.9,526.6 L742.1,526.8 L745.3,527.1 L748.5,527.4 L751.8,527.7 L755.0,528.0 L758.3,528.2 L761.5,528.5 L764.8,528.8 L768.0,529.0 L771.3,529.3 L774.5,529.5 L777.8,529.8 L781.1,530.0 L784.4,530.2 L787.6,530.5 L790.9,530.7 L794.2,530.9 L797.5,531.2 L800.8,531.4 L804.1,531.6 L807.4,531.8 L810.7,532.1 L814.0,532.3 L817.3,532.5 L820.6,532.7 L823.9,532.9 L827.2,533.1 L830.5,533.3 L833.9,533.5 L837.2,533.7 L840.5,533.9 L843.9,534.1 L847.2,534.3 L850.5,534.5 L853.9,534.7 L857.2,534.9 L860.6,535.1 L863.9,535.3 L867.3,535.5 L870.7,535.7 L874.0,535.9 L877.4,536.1 L880.8,536.2 L884.2,536.4 L887.5,536.6 L890.9,536.8 L894.3,537.0 L897.7,537.2 L901.1,537.4 L904.5,537.6 L907.9,537.7 L911.3,537.9 L914.7,538.1 L918.1,538.3 L921.5,538.5" stroke="#0000ff" stroke-dasharray="4 2.6"/>
<path d="M84.0,15.3 L84.5,16.4 L85.1,18.0 L85.9,19.8 L86.8,21.8 L87.8,24.0 L88.8,26.3 L89.8,28.8 L91.0,31.3 L92.1,33.9 L93.3,36.6 L94.5,39.4 L95.8,42.2 L97.1,45.1 L98.4,48.1 L99.7,51.1 L101.1,54.2 L102.5,57.3 L103.9,60.4 L105.4,63.6 L106.9,66.9 L108.4,70.1 L109.9,73.4 L111.4,76.7 L113.0,80.1 L114.6,83.5 L116.2,86.9 L117.8,90.3 L119.4,93.8 L121.1,97.2 L122.8,100.7 L124.4,104.2 L126.1,107.7 L127.9,111.3 L129.6,114.8 L131.4,118.4 L133.1,121.9 L134.9,125.5 L136.7,129.1 L138.5,132.7 L140.3,136.3 L142.2,139.9 L144.0,143.5 L145.9,147.1 L147.8,150.7 L149.6,154.3 L151.6,157.9 L153.5,161.5 L155.4,165.1 L157.3,168.7 L159.3,172.3 L161.2,175.9 L163.2,179.5 L165.2,183.1 L167.2,186.6 L169.2,190.2 L171.2,193.8 L173.3,197.3 L175.3,200.9 L177.4,204.4 L179.4,207.9 L181.5,211.5 L183.6,215.0 L185.7,218.4 L187.8,221.9 L189.9,225.4 L192.0,228.8 L194.1,232.3 L196.3,235.7 L198.4,239.1 L200.6,242.5 L202.8,245.9 L204.9,249.3 L207.1,252.6 L209.3,255.9 L211.5,259.2 L213.8,262.5 L216.0,265.8 L218.2,269.1 L220.4,272.3 L222.7,275.5 L225.0,278.7 L227.2,281.9 L229.5,285.1 L231.8,288.2 L234.1,291.3 L236.4,294.4 L238.7,297.5 L241.0,300.6 L243.3,303.6 L245.6,306.6 L248.0,309.6 L250.3,312.6 L252.7,315.5 L255.1,318.4 L257.4,321.3 L259.8,324.2 L262.2,327.0 L264.6,329.9 L267.0,332.7 L269.4,335.5 L271.8,338.2 L274.2,341.0 L276.6,343.7 L279.1,346.4 L281.5,349.0 L284.0,351.7 L286.4,354.3 L288.9,356.9 L291.4,359.4 L293.8,362.0 L296.3,364.5 L298.8,367.0 L301.3,369.4 L303.8,371.9 L306.3,374.3 L308.8,376.7 L311.4,379.1 L313.9,381.4 L316.4,383.7 L319.0,386.0 L321.5,388.3 L324.1,390.5 L326.6,392.8 L329.2,395.0 L331.8,397.1 L334.3,399.3 L336.9,401.4 L339.5,403.5 L342.1,405.6 L344.7,407.7 L347.3,409.7 L350.0,411.7 L352.6,413.7 L355.2,415.6 L357.8,417.6 L360.5,419.5 L363.1,421.4 L365.8,423.2 L368.4,425.1 L371.1,426.9 L373.8,428.7 L376.4,430.5 L379.1,432.2 L381.8,434.0 L384.5,435.7 L387.2,437.4 L389.9,439.0 L392.6,440.7 L395.3,442.3 L398.0,443.9 L400.8,445.5 L403.5,447.0 L406.2,448.6 L409.0,450.1 L411.7,451.6 L414.5,453.1 L417.2,454.5 L420.0,456.0 L422.7,457.4 L425.5,458.8 L428.3,460.2 L431.1,461.5 L433.9,462.9 L436.7,464.2 L439.5,465.5 L442.3,466.8 L445.1,468.0 L447.9,469.3 L450.7,470.5 L453.5,471.7 L456.4,472.9 L459.2,474.1 L462.0,475.2 L464.9,476.3 L467.7,477.5 L470.6,478.6 L473.4,479.7 L476.3,480.7 L479.2,481.8 L482.0,482.8 L484.9,483.9 L487.8,484.9 L490.7,485.9 L493.6,486.8 L496.5,487.8 L499.4,488.7 L502.3,489.7 L505.2,490.6 L508.1,491.5 L511.0,492.4 L513.9,493.2 L516.9,494.1 L519.8,495.0 L522.7,495.8 L525.7,496.6 L528.6,497.4 L531.6,498.2 L534.5,499.0 L537.5,499.8 L540.5,500.5 L543.4,501.2 L546.4,502.0 L549.4,502.7 L552.4,503.4 L555.3,504.1 L558.3,504.8 L561.3,505.5 L564.3,506.1 L567.3,506.8 L570.3,507.4 L573.4,508.0 L576.4,508.6 L579.4,509.3 L582.4,509.9 L585.4,510.4 L588.5,511.0 L591.5,511.6 L594.6,512.1 L597.6,512.7 L600.7,513.2 L603.7,513.8 L606.8,514.3 L609.8,514.8 L612.9,515.3 L616.0,515.8 L619.1,516.3 L622.1,516.8 L625.2,517.2 L628.3,517.7 L631.4,518.1 L634.5,518.6 L637.6,519.0 L640.7,519.5 L643.8,519.9 L646.9,520.3 L650.0,520.7 L653.2,521.1 L656.3,521.5 L659.4,521.9 L662.5,522.3 L665.7,522.6 L668.8,523.0 L672.0,523.4 L675.1,523.7 L678.3,524.1 L681.4,524.4 L684.6,524.8 L687.7,525.1 L690.9,525.4 L694.1,525.7 L697.2,526.1 L700.4,526.4 L703.6,526.7 L706.8,527.0 L710.0,527.3 L713.2,527.5 L716.4,527.8 L719.6,528.1 L722.8,528.4 L726.0,528.7 L729.2,528.9 L732.4,529.2 L735.6,529.4 L738.9,529.7 L742.1,529.9 L745.3,530.2 L748.5,530.4 L751.8,530.6 L755.0,530.9 L758.3,531.1 L761.5,531.3 L764.8,531.5 L768.0,531.8 L771.3,532.0 L774.5,532.2 L777.8,532.4 L781.1,532.6 L784.4,532.8 L787.6,533.0 L790.9,533.2 L794.2,533.3 L797.5,533.5 L800.8,533.7 L804.1,533.9 L807.4,534.1 L810.7,534.2 L814.0,534.4 L817.3,534.6 L820.6,534.7 L823.9,534.9 L827.2,535.0 L830.5,535.2 L833.9,535.3 L837.2,535.5 L840.5,535.6 L843.9,535.8 L847.2,535.9 L850.5,536.1 L853.9,536.2 L857.2,536.3 L860.6,536.5 L863.9,536.6 L867.3,536.7 L870.7,536.9 L874.0,537.0 L877.4,537.1 L880.8,537.2 L884.2,537.3 L887.5,537.5 L890.9,537.6 L894.3,537.7 L897.7,537.8 L901.1,537.9 L904.5,538.0 L907.9,538.1 L911.3,538.2 L914.7,538.3 L918.1,538.4 L921.5,538.5" stroke="#a8a8ff" stroke-width="2"/>
<path d="M84.0,15.3 L84.5,16.4 L85.1,18.0 L85.9,19.8 L86.8,21.8 L87.8,24.0 L88.8,26.3 L89.8,28.8 L91.0,31.3 L92.1,33.9 L93.3,36.6 L94.5,39.4 L95.8,42.2 L97.1,45.1 L98.4,48.1 L99.7,51.1 L101.1,54.2 L102.5,57.3 L103.9,60.4 L105.4,63.6 L106.9,66.9 L108.4,70.1 L109.9,73.4 L111.4,76.7 L113.0,80.1 L114.6,83.5 L116.2,86.9 L117.8,90.3 L119.4,93.8 L121.1,97.2 L122.8,100.7 L124.4,104.2 L126.1,107.7 L127.9,111.3 L129.6,114.8 L131.4,118.4 L133.1,121.9 L134.9,125.5 L136.7,129.1 L138.5,132.7 L140.3,136.3 L142.2,139.9 L144.0,143.5 L145.9,147.1 L147.8,150.7 L149.6,154.3 L151.6,157.9 L153.5,161.5 L155.4,165.1 L157.3,168.7 L159.3,172.3 L161.2,175.9 L163.2,179.5 L165.2,183.1 L167.2,186.6 L169.2,190.2 L171.2,193.8 L173.3,197.3 L175.3,200.9 L177.4,204.4 L179.4,207.9 L181.5,211.5 L183.6,215.0 L185.7,218.4 L187.8,221.9 L189.9,225.4 L192.0,228.8 L194.1,232.3 L196.3,235.7 L198.4,239.1 L200.6,242.5 L202.8,245.9 L204.9,249.3 L207.1,252.6 L209.3,255.9 L211.5,259.2 L213.8,262.5 L216.0,265.8 L218.2,269.1 L220.4,272.3 L222.7,275.5 L225.0,278.7 L227.2,281.9 L229.5,285.1 L231.8,288.2 L234.1,291.3 L236.4,294.4 L238.7,297.5 L241.0,300.6 L243.3,303.6 L245.6,306.6 L248.0,309.6 L250.3,312.6 L252.7,315.5 L255.1,318.4 L257.4,321.3 L259.8,324.2 L262.2,327.0 L264.6,329.9 L267.0,332.7 L269.4,335.5 L271.8,338.2 L274.2,341.0 L276.6,343.7 L279.1,346.4 L281.5,349.0 L284.0,351.7 L286.4,354.3 L288.9,356.9 L291.4,359.4 L293.8,362.0 L296.3,364.5 L298.8,367.0 L301.3,369.4 L303.8,371.9 L306.3,374.3 L308.8,376.7 L311.4,379.1 L313.9,381.4 L316.4,383.7 L319.0,386.0 L321.5,388.3 L324.1,390.5 L326.6,392.8 L329.2,395.0 L331.8,397.1 L334.3,399.3 L336.9,401.4 L339.5,403.5 L342.1,405.6 L344.7,407.7 L347.3,409.7 L350.0,411.7 L352.6,413.7 L355.2,415.6 L357.8,417.6 L360.5,419.5 L363.1,421.4 L365.8,423.2 L368.4,425.1 L371.1,426.9 L373.8,428.7 L376.4,430.5 L379.1,432.2 L381.8,434.0 L384.5,435.7 L387.2,437.4 L389.9,439.0 L392.6,440.7 L395.3,442.3 L398.0,443.9 L400.8,445.5 L403.5,447.0 L406.2,448.6 L409.0,450.1 L411.7,451.6 L414.5,453.1 L417.2,454.5 L420.0,456.0 L422.7,457.4 L425.5,458.8 L428.3,460.2 L431.1,461.5 L433.9,462.9 L436.7,464.2 L439.5,465.5 L442.3,466.8 L445.1,468.0 L447.9,469.3 L450.7,470.5 L453.5,471.7 L456.4,472.9 L459.2,474.1 L462.0,475.2 L464.9,476.3 L467.7,477.5 L470.6,478.6 L473.4,479.7 L476.3,480.7 L479.2,481.8 L482.0,482.8 L484.9,483.9 L487.8,484.9 L490.7,485.9 L493.6,486.8 L496.5,487.8 L499.4,488.7 L502.3,489.7 L505.2,490.6 L508.1,491.5 L511.0,492.4 L513.9,493.2 L516.9,494.1 L519.8,495.0 L522.7,495.8 L525.7,496.6 L528.6,497.4 L531.6,498.2 L534.5,499.0 L537.5,499.8 L540.5,500.5 L543.4,501.2 L546.4,502.0 L549.4,502.7 L552.4,503.4 L555.3,504.1 L558.3,504.8 L561.3,505.5 L564.3,506.1 L567.3,506.8 L570.3,507.4 L573.4,508.0 L576.4,508.6 L579.4,509.3 L582.4,509.9 L585.4,510.4 L588.5,511.0 L591.5,511.6 L594.6,512.1 L597.6,512.7 L600.7,513.2 L603.7,513.8 L606.8,514.3 L609.8,514.8 L612.9,515.3 L616.0,515.8 L619.1,516.3 L622.1,516.8 L625.2,517.2 L628.3,517.7 L631.4,518.1 L634.5,518.6 L637.6,519.0 L640.7,519.5 L643.8,519.9 L646.9,520.3 L650.0,520.7 L653.2,521.1 L656.3,521.5 L659.4,521.9 L662.5,522.3 L665.7,522.6 L668.8,523.0 L672.0,523.4 L675.1,523.7 L678.3,524.1 L681.4,524.4 L684.6,524.8 L687.7,525.1 L690.9,525.4 L694.1,525.7 L697.2,526.1 L700.4,526.4 L703.6,526.7 L706.8,527.0 L710.0,527.3 L713.2,527.5 L716.4,527.8 L719.6,528.1 L722.8,528.4 L726.0,528.7 L729.2,528.9 L732.4,529.2 L735.6,529.4 L738.9,529.7 L742.1,529.9 L745.3,530.2 L748.5,530.4 L751.8,530.6 L755.0,530.9 L758.3,531.1 L761.5,531.3 L764.8,531.5 L768.0,531.8 L771.3,532.0 L774.5,532.2 L777.8,532.4 L781.1,532.6 L784.4,532.8 L787.6,533.0 L790.9,533.2 L794.2,533.3 L797.5,533.5 L800.8,533.7 L804.1,533.9 L807.4,534.1 L810.7,534.2 L814.0,534.4 L817.3,534.6 L820.6,534.7 L823.9,534.9 L827.2,535.0 L830.5,535.2 L833.9,535.3 L837.2,535.5 L840.5,535.6 L843.9,535.8 L847.2,535.9 L850.5,536.1 L853.9,536.2 L857.2,536.3 L860.6,536.5 L863.9,536.6 L867.3,536.7 L870.7,536.9 L874.0,537.0 L877.4,537.1 L880.8,537.2 L884.2,537.3 L887.5,537.5 L890.9,537.6 L894.3,537.7 L897.7,537.8 L901.1,537.9 L904.5,538.0 L907.9,538.1 L911.3,538.2 L914.7,538.3 L918.1,538.4 L921.5,538.5" stroke="#0000ff" stroke-dasharray="4 2.6"/>
</g>
<g>
<text x="75" y="25.7" text-anchor="end">1</text>
<text x="75" y="130.3" text-anchor="end">0.8</text>
<text x="75" y="234.3" text-anchor="end">0.6</text>
<text x="75" y="340.7" text-anchor="end">0.4</text>
<text x="75" y="444.3" text-anchor="end">0.2</text>
<text x="75" y="548.9" text-anchor="end">0</text>
<text x="84.0" y="573.5" text-anchor="middle">0</text>
<text x="252.0" y="573.5" text-anchor="middle">0.5</text>
<text x="419.5" y="573.5" text-anchor="middle">1</text>
<text x="587.5" y="573.5" text-anchor="middle">1.5</text>
<text x="754.2" y="573.5" text-anchor="middle">2</text>
<text x="921.4" y="573.5" text-anchor="middle">2.5</text>
</g>
<!-- annotation arrow -->
<g stroke="#008000" fill="#008000">
<line x1="405.3" y1="332.9" x2="251" y2="472.5" stroke-width="3.4"/>
<path d="M240.2,483.2 L248.3,465.6 L251.3,472.6 L258.5,475.6 Z" stroke-width="0.8" stroke-linejoin="miter"/>
</g>
<!-- text box -->
<rect x="206.8" y="26.6" width="390.7" height="80.2" fill="none" stroke="#7c7c7c" stroke-width="2"/>
<text x="216.8" y="58.3" textLength="338.4">fw = 0.3, Pr = 7, Df = 0.1, Sr =</text>
<text x="215.5" y="91.9" textLength="153.7">0.1, Sc = 0.7, </text>
<text x="392.6" y="91.9" textLength="58.8">= 0.5</text>
<path d="M374.2,84.5 Q377.5,79 382,83 L382.4,95.5 M386.8,81 L383.8,89" stroke="#555" stroke-width="1.6" fill="none"/>
<!-- legend -->
<rect x="617.6" y="24.5" width="258.9" height="110.5" fill="none" stroke="#929292" stroke-width="2.2"/>
<text x="626" y="55.6" textLength="186">Ternary Group 1</text>
<text x="626" y="88.8" textLength="186">Ternary Group 2</text>
<text x="626.2" y="122" textLength="112.1">Base fluid</text>
<g stroke-width="3.5" fill="none">
<line x1="835" y1="52.5" x2="870" y2="52.5" stroke="#0000ff" stroke-dasharray="4 2.5"/>
<line x1="835" y1="80.1" x2="868" y2="80.1" stroke="#ff0000" stroke-dasharray="15 11"/>
<line x1="835" y1="111.2" x2="866" y2="111.2" stroke="#008000"/>
</g>
<!-- c box -->
<rect x="680.5" y="148.2" width="165.2" height="42.2" fill="none" stroke="#8a8a8a" stroke-width="2.1"/>
<text x="689.3" y="180.2" textLength="140.3">c = 4, 5, 6, 7</text>
<!-- axis labels -->
<text transform="translate(502.6,613.2) scale(1.16,1)" text-anchor="middle" style="font-family:'Liberation Serif',serif;font-style:italic">η</text>
<text transform="translate(27.9,278.2) rotate(-90)" text-anchor="middle" style="font-size:26.5px" textLength="54" lengthAdjust="spacing">f '(<tspan font-family="Liberation Serif" font-style="italic">η</tspan>)</text>
</svg>
</body></html>
